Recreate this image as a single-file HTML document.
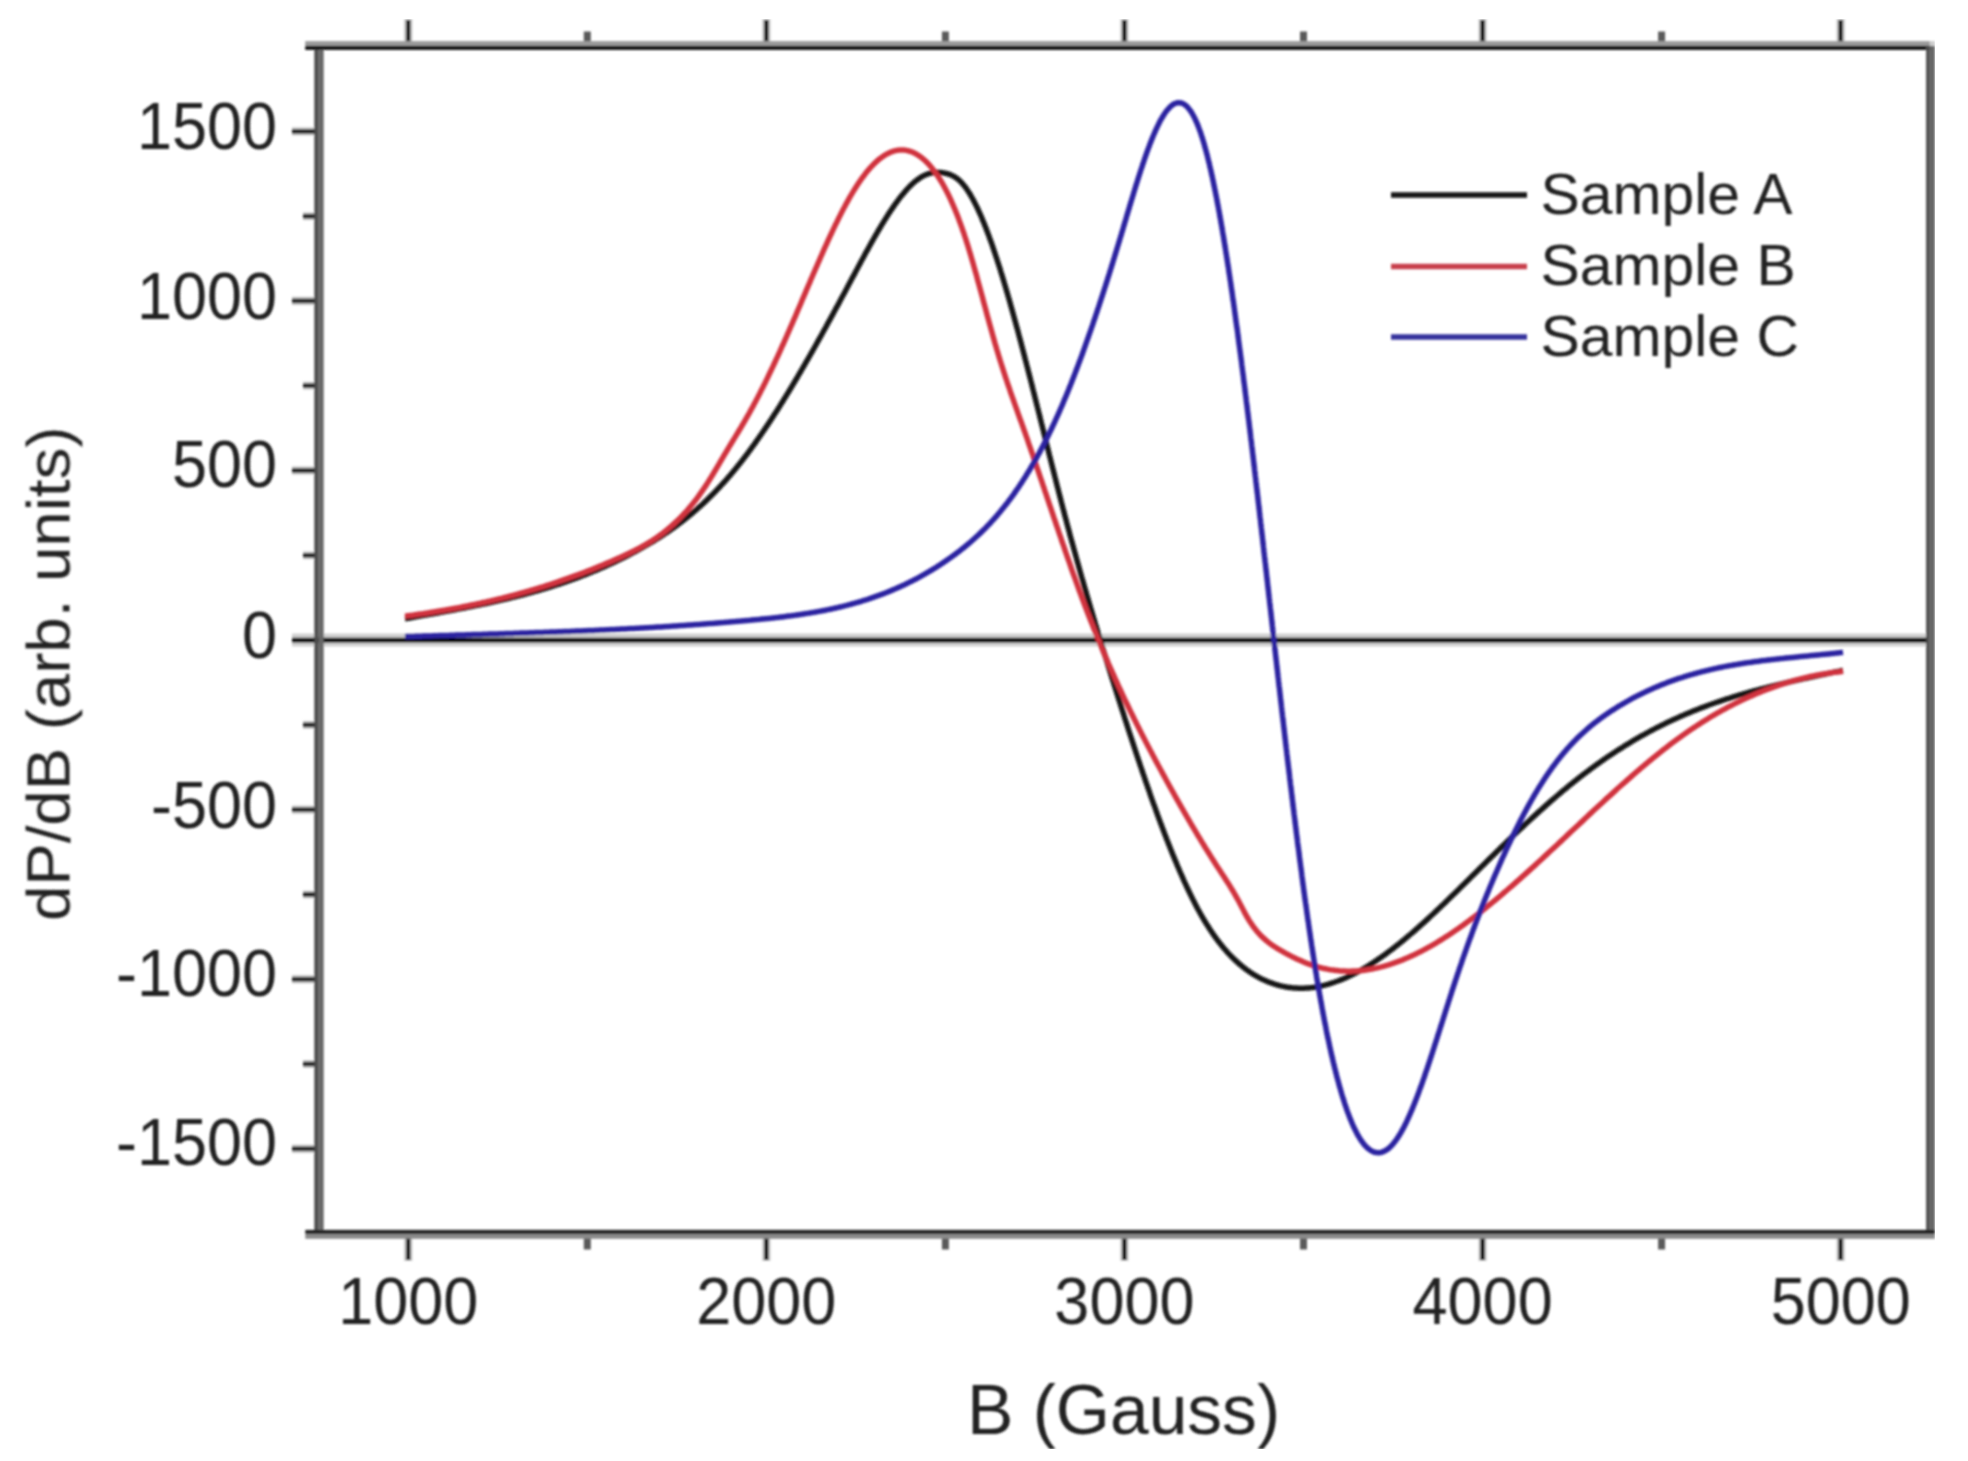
<!DOCTYPE html>
<html><head><meta charset="utf-8"><title>EPR spectra: dP/dB vs B</title>
<style>html,body{margin:0;padding:0;background:#fff;overflow:hidden;}svg{display:block;}</style></head>
<body><svg width="1968" height="1461" viewBox="0 0 1968 1461">
<defs><filter id="b" x="0" y="0" width="1" height="1"><feGaussianBlur stdDeviation="1.0"/></filter></defs><rect width="1968" height="1461" fill="#fff"/>
<g filter="url(#b)">
<line x1="408.2" y1="19.0" x2="408.2" y2="42.0" stroke="#cfcfcf" stroke-width="8.5"/>
<line x1="408.2" y1="20.0" x2="408.2" y2="42.0" stroke="#151515" stroke-width="4.5"/>
<line x1="408.2" y1="1237.0" x2="408.2" y2="1261.0" stroke="#cfcfcf" stroke-width="8.5"/>
<line x1="408.2" y1="1237.0" x2="408.2" y2="1260.0" stroke="#151515" stroke-width="4.5"/>
<line x1="587.3" y1="31.5" x2="587.3" y2="42.0" stroke="#5a5a5a" stroke-width="7"/>
<line x1="587.3" y1="1237.0" x2="587.3" y2="1249.5" stroke="#5a5a5a" stroke-width="7"/>
<line x1="766.3" y1="19.0" x2="766.3" y2="42.0" stroke="#cfcfcf" stroke-width="8.5"/>
<line x1="766.3" y1="20.0" x2="766.3" y2="42.0" stroke="#151515" stroke-width="4.5"/>
<line x1="766.3" y1="1237.0" x2="766.3" y2="1261.0" stroke="#cfcfcf" stroke-width="8.5"/>
<line x1="766.3" y1="1237.0" x2="766.3" y2="1260.0" stroke="#151515" stroke-width="4.5"/>
<line x1="945.4" y1="31.5" x2="945.4" y2="42.0" stroke="#5a5a5a" stroke-width="7"/>
<line x1="945.4" y1="1237.0" x2="945.4" y2="1249.5" stroke="#5a5a5a" stroke-width="7"/>
<line x1="1124.4" y1="19.0" x2="1124.4" y2="42.0" stroke="#cfcfcf" stroke-width="8.5"/>
<line x1="1124.4" y1="20.0" x2="1124.4" y2="42.0" stroke="#151515" stroke-width="4.5"/>
<line x1="1124.4" y1="1237.0" x2="1124.4" y2="1261.0" stroke="#cfcfcf" stroke-width="8.5"/>
<line x1="1124.4" y1="1237.0" x2="1124.4" y2="1260.0" stroke="#151515" stroke-width="4.5"/>
<line x1="1303.5" y1="31.5" x2="1303.5" y2="42.0" stroke="#5a5a5a" stroke-width="7"/>
<line x1="1303.5" y1="1237.0" x2="1303.5" y2="1249.5" stroke="#5a5a5a" stroke-width="7"/>
<line x1="1482.6" y1="19.0" x2="1482.6" y2="42.0" stroke="#cfcfcf" stroke-width="8.5"/>
<line x1="1482.6" y1="20.0" x2="1482.6" y2="42.0" stroke="#151515" stroke-width="4.5"/>
<line x1="1482.6" y1="1237.0" x2="1482.6" y2="1261.0" stroke="#cfcfcf" stroke-width="8.5"/>
<line x1="1482.6" y1="1237.0" x2="1482.6" y2="1260.0" stroke="#151515" stroke-width="4.5"/>
<line x1="1661.6" y1="31.5" x2="1661.6" y2="42.0" stroke="#5a5a5a" stroke-width="7"/>
<line x1="1661.6" y1="1237.0" x2="1661.6" y2="1249.5" stroke="#5a5a5a" stroke-width="7"/>
<line x1="1840.7" y1="19.0" x2="1840.7" y2="42.0" stroke="#cfcfcf" stroke-width="8.5"/>
<line x1="1840.7" y1="20.0" x2="1840.7" y2="42.0" stroke="#151515" stroke-width="4.5"/>
<line x1="1840.7" y1="1237.0" x2="1840.7" y2="1261.0" stroke="#cfcfcf" stroke-width="8.5"/>
<line x1="1840.7" y1="1237.0" x2="1840.7" y2="1260.0" stroke="#151515" stroke-width="4.5"/>
<line x1="292.0" y1="1148.8" x2="315.0" y2="1148.8" stroke="#cfcfcf" stroke-width="8.5"/>
<line x1="292.0" y1="1148.8" x2="315.0" y2="1148.8" stroke="#262626" stroke-width="4.6"/>
<line x1="303.0" y1="1064.0" x2="315.0" y2="1064.0" stroke="#cfcfcf" stroke-width="8"/>
<line x1="303.0" y1="1064.0" x2="315.0" y2="1064.0" stroke="#262626" stroke-width="4.6"/>
<line x1="292.0" y1="979.2" x2="315.0" y2="979.2" stroke="#cfcfcf" stroke-width="8.5"/>
<line x1="292.0" y1="979.2" x2="315.0" y2="979.2" stroke="#262626" stroke-width="4.6"/>
<line x1="303.0" y1="894.5" x2="315.0" y2="894.5" stroke="#cfcfcf" stroke-width="8"/>
<line x1="303.0" y1="894.5" x2="315.0" y2="894.5" stroke="#262626" stroke-width="4.6"/>
<line x1="292.0" y1="809.7" x2="315.0" y2="809.7" stroke="#cfcfcf" stroke-width="8.5"/>
<line x1="292.0" y1="809.7" x2="315.0" y2="809.7" stroke="#262626" stroke-width="4.6"/>
<line x1="303.0" y1="724.9" x2="315.0" y2="724.9" stroke="#cfcfcf" stroke-width="8"/>
<line x1="303.0" y1="724.9" x2="315.0" y2="724.9" stroke="#262626" stroke-width="4.6"/>
<line x1="292.0" y1="640.1" x2="315.0" y2="640.1" stroke="#cfcfcf" stroke-width="8.5"/>
<line x1="292.0" y1="640.1" x2="315.0" y2="640.1" stroke="#262626" stroke-width="4.6"/>
<line x1="303.0" y1="555.3" x2="315.0" y2="555.3" stroke="#cfcfcf" stroke-width="8"/>
<line x1="303.0" y1="555.3" x2="315.0" y2="555.3" stroke="#262626" stroke-width="4.6"/>
<line x1="292.0" y1="470.5" x2="315.0" y2="470.5" stroke="#cfcfcf" stroke-width="8.5"/>
<line x1="292.0" y1="470.5" x2="315.0" y2="470.5" stroke="#262626" stroke-width="4.6"/>
<line x1="303.0" y1="385.7" x2="315.0" y2="385.7" stroke="#cfcfcf" stroke-width="8"/>
<line x1="303.0" y1="385.7" x2="315.0" y2="385.7" stroke="#262626" stroke-width="4.6"/>
<line x1="292.0" y1="300.9" x2="315.0" y2="300.9" stroke="#cfcfcf" stroke-width="8.5"/>
<line x1="292.0" y1="300.9" x2="315.0" y2="300.9" stroke="#262626" stroke-width="4.6"/>
<line x1="303.0" y1="216.2" x2="315.0" y2="216.2" stroke="#cfcfcf" stroke-width="8"/>
<line x1="303.0" y1="216.2" x2="315.0" y2="216.2" stroke="#262626" stroke-width="4.6"/>
<line x1="292.0" y1="131.4" x2="315.0" y2="131.4" stroke="#cfcfcf" stroke-width="8.5"/>
<line x1="292.0" y1="131.4" x2="315.0" y2="131.4" stroke="#262626" stroke-width="4.6"/>
<line x1="292.0" y1="640.1" x2="1927.0" y2="640.1" stroke="#d0d0d0" stroke-width="13"/>
<line x1="292.0" y1="640.1" x2="1927.0" y2="640.1" stroke="#000" stroke-width="4.6"/>
<rect x="305.2" y="41.1" width="1624.7" height="4.7" fill="#9a9a9a"/>
<rect x="305.2" y="45.8" width="1624.7" height="4.1" fill="#111"/>
<rect x="314.3" y="49.8" width="4.4" height="1180.2" fill="#4d4d4d"/>
<rect x="318.7" y="49.8" width="5.0" height="1180.2" fill="#686868"/>
<rect x="1926.1" y="45.8" width="3.7" height="1184.2" fill="#4d4d4d"/>
<rect x="1929.8" y="45.8" width="5.1" height="1184.2" fill="#666"/>
<rect x="1929.8" y="41.1" width="5.1" height="4.7" fill="#cccccc"/>
<rect x="305.3" y="1229.9" width="1629.6" height="4.1" fill="#222"/>
<rect x="305.3" y="1234.0" width="1629.6" height="4.8" fill="#8a8a8a"/>
<text transform="translate(277,149) scale(0.94,1)" text-anchor="end" font-size="67" font-family="Liberation Sans, Arial, sans-serif" fill="#222">1500</text>
<text transform="translate(277,318.5) scale(0.94,1)" text-anchor="end" font-size="67" font-family="Liberation Sans, Arial, sans-serif" fill="#222">1000</text>
<text transform="translate(277,487) scale(0.94,1)" text-anchor="end" font-size="67" font-family="Liberation Sans, Arial, sans-serif" fill="#222">500</text>
<text transform="translate(277,658) scale(0.94,1)" text-anchor="end" font-size="67" font-family="Liberation Sans, Arial, sans-serif" fill="#222">0</text>
<text transform="translate(277,827.5) scale(0.94,1)" text-anchor="end" font-size="67" font-family="Liberation Sans, Arial, sans-serif" fill="#222">-500</text>
<text transform="translate(277,996) scale(0.94,1)" text-anchor="end" font-size="67" font-family="Liberation Sans, Arial, sans-serif" fill="#222">-1000</text>
<text transform="translate(277,1165) scale(0.94,1)" text-anchor="end" font-size="67" font-family="Liberation Sans, Arial, sans-serif" fill="#222">-1500</text>
<text transform="translate(408.2,1324) scale(0.94,1)" text-anchor="middle" font-size="67" font-family="Liberation Sans, Arial, sans-serif" fill="#222">1000</text>
<text transform="translate(766.3,1324) scale(0.94,1)" text-anchor="middle" font-size="67" font-family="Liberation Sans, Arial, sans-serif" fill="#222">2000</text>
<text transform="translate(1124.4,1324) scale(0.94,1)" text-anchor="middle" font-size="67" font-family="Liberation Sans, Arial, sans-serif" fill="#222">3000</text>
<text transform="translate(1482.6,1324) scale(0.94,1)" text-anchor="middle" font-size="67" font-family="Liberation Sans, Arial, sans-serif" fill="#222">4000</text>
<text transform="translate(1840.7,1324) scale(0.94,1)" text-anchor="middle" font-size="67" font-family="Liberation Sans, Arial, sans-serif" fill="#222">5000</text>
<text transform="translate(1123.5,1433.5) scale(0.98,1)" text-anchor="middle" font-size="71" font-family="Liberation Sans, Arial, sans-serif" fill="#222">B (Gauss)</text>
<text transform="translate(69.5,673.75) rotate(-90) scale(1.042,1)" text-anchor="middle" font-size="61" font-family="Liberation Sans, Arial, sans-serif" fill="#222">dP/dB (arb. units)</text>
<line x1="1391.0" y1="195.0" x2="1527.0" y2="195.0" stroke="#151515" stroke-width="5.5"/>
<text transform="translate(1540.5,213.5) scale(1.015,1)" font-size="58" font-family="Liberation Sans, Arial, sans-serif" fill="#222">Sample A</text>
<line x1="1391.0" y1="266.5" x2="1527.0" y2="266.5" stroke="#c8404c" stroke-width="5.5"/>
<text transform="translate(1540.5,285.0) scale(1.015,1)" font-size="58" font-family="Liberation Sans, Arial, sans-serif" fill="#222">Sample B</text>
<line x1="1391.0" y1="337.0" x2="1527.0" y2="337.0" stroke="#34309c" stroke-width="5.5"/>
<text transform="translate(1540.5,355.5) scale(1.015,1)" font-size="58" font-family="Liberation Sans, Arial, sans-serif" fill="#222">Sample C</text>
<path d="M405.0 618.7 L406.5 618.5 L408.0 618.2 L409.4 618.0 L410.9 617.7 L412.4 617.4 L413.9 617.2 L415.3 616.9 L416.8 616.6 L418.3 616.4 L419.8 616.1 L421.2 615.8 L422.7 615.6 L424.2 615.3 L425.7 615.1 L427.2 614.8 L428.6 614.5 L430.1 614.3 L431.6 614.0 L433.1 613.7 L434.5 613.5 L436.0 613.2 L437.5 612.9 L439.0 612.7 L440.4 612.4 L441.9 612.1 L443.4 611.9 L444.9 611.6 L446.3 611.3 L447.8 611.0 L449.3 610.8 L450.8 610.5 L452.2 610.2 L453.7 609.9 L455.2 609.7 L456.7 609.4 L458.1 609.1 L459.6 608.8 L461.1 608.5 L462.6 608.3 L464.0 608.0 L465.5 607.7 L467.0 607.4 L468.4 607.1 L469.9 606.8 L471.4 606.5 L472.9 606.2 L474.3 605.9 L475.8 605.6 L477.3 605.3 L478.7 605.0 L480.2 604.7 L481.7 604.4 L483.1 604.1 L484.6 603.8 L486.1 603.5 L487.5 603.2 L489.0 602.9 L490.5 602.5 L491.9 602.2 L493.4 601.9 L494.9 601.6 L496.3 601.2 L497.8 600.9 L499.3 600.6 L500.7 600.2 L502.2 599.9 L503.6 599.6 L505.1 599.2 L506.6 598.9 L508.0 598.5 L509.5 598.2 L510.9 597.8 L512.4 597.4 L513.9 597.1 L515.3 596.7 L516.8 596.4 L518.2 596.0 L519.7 595.6 L521.1 595.2 L522.6 594.9 L524.0 594.5 L525.5 594.1 L526.9 593.7 L528.4 593.3 L529.8 592.9 L531.3 592.5 L532.7 592.1 L534.2 591.7 L535.6 591.3 L537.0 590.9 L538.5 590.5 L539.9 590.1 L541.4 589.6 L542.8 589.2 L544.2 588.8 L545.7 588.3 L547.1 587.9 L548.6 587.5 L550.0 587.0 L551.4 586.6 L552.8 586.1 L554.3 585.7 L555.7 585.2 L557.1 584.7 L558.6 584.3 L560.0 583.8 L561.4 583.3 L562.8 582.9 L564.3 582.4 L565.7 581.9 L567.1 581.4 L568.5 580.9 L569.9 580.4 L571.3 579.9 L572.7 579.4 L574.2 578.9 L575.6 578.4 L577.0 577.8 L578.4 577.3 L579.8 576.8 L581.2 576.2 L582.6 575.7 L584.0 575.2 L585.4 574.6 L586.8 574.1 L588.2 573.5 L589.6 573.0 L591.0 572.4 L592.4 571.8 L593.7 571.3 L595.1 570.7 L596.5 570.1 L597.9 569.5 L599.3 568.9 L600.7 568.3 L602.0 567.7 L603.4 567.1 L604.8 566.5 L606.1 565.9 L607.5 565.3 L608.9 564.7 L610.2 564.0 L611.6 563.4 L613.0 562.8 L614.3 562.1 L615.7 561.5 L617.0 560.8 L618.4 560.2 L619.7 559.5 L621.1 558.9 L622.4 558.2 L623.8 557.5 L625.1 556.9 L626.5 556.2 L627.8 555.5 L629.1 554.8 L630.5 554.1 L631.8 553.4 L633.1 552.7 L634.4 552.0 L635.8 551.3 L637.1 550.6 L638.4 549.9 L639.7 549.1 L641.0 548.4 L642.3 547.7 L643.6 546.9 L644.9 546.2 L646.2 545.4 L647.5 544.7 L648.8 543.9 L650.1 543.2 L651.4 542.4 L652.7 541.6 L654.0 540.8 L655.3 540.0 L656.5 539.2 L657.8 538.4 L659.1 537.6 L660.3 536.8 L661.6 536.0 L662.8 535.2 L664.1 534.3 L665.3 533.5 L666.6 532.7 L667.8 531.8 L669.1 531.0 L670.3 530.1 L671.5 529.2 L672.8 528.4 L674.0 527.5 L675.2 526.6 L676.4 525.7 L677.6 524.8 L678.8 523.9 L680.0 523.0 L681.2 522.1 L682.4 521.2 L683.6 520.2 L684.8 519.3 L685.9 518.4 L687.1 517.4 L688.3 516.5 L689.4 515.5 L690.6 514.6 L691.7 513.6 L692.9 512.6 L694.0 511.7 L695.2 510.7 L696.3 509.7 L697.4 508.7 L698.5 507.7 L699.7 506.7 L700.8 505.7 L701.9 504.7 L703.0 503.7 L704.1 502.6 L705.2 501.6 L706.3 500.6 L707.4 499.5 L708.4 498.5 L709.5 497.4 L710.6 496.4 L711.7 495.3 L712.7 494.2 L713.8 493.2 L714.8 492.1 L715.9 491.0 L716.9 489.9 L717.9 488.8 L719.0 487.8 L720.0 486.7 L721.0 485.5 L722.0 484.4 L723.1 483.3 L724.1 482.2 L725.1 481.1 L726.1 480.0 L727.1 478.8 L728.0 477.7 L729.0 476.6 L730.0 475.4 L731.0 474.3 L732.0 473.1 L732.9 472.0 L733.9 470.8 L734.8 469.7 L735.8 468.5 L736.7 467.3 L737.7 466.2 L738.6 465.0 L739.6 463.8 L740.5 462.6 L741.4 461.5 L742.3 460.3 L743.3 459.1 L744.2 457.9 L745.1 456.7 L746.0 455.5 L746.9 454.3 L747.8 453.1 L748.7 451.9 L749.6 450.7 L750.5 449.5 L751.4 448.2 L752.2 447.0 L753.1 445.8 L754.0 444.6 L754.9 443.4 L755.7 442.2 L756.6 440.9 L757.5 439.7 L758.3 438.5 L759.2 437.2 L760.1 436.0 L760.9 434.8 L761.8 433.5 L762.6 432.3 L763.5 431.0 L764.3 429.8 L765.1 428.6 L766.0 427.3 L766.8 426.1 L767.7 424.8 L768.5 423.6 L769.3 422.3 L770.1 421.1 L771.0 419.8 L771.8 418.5 L772.6 417.3 L773.4 416.0 L774.2 414.8 L775.0 413.5 L775.9 412.2 L776.7 411.0 L777.5 409.7 L778.3 408.4 L779.1 407.2 L779.9 405.9 L780.7 404.6 L781.5 403.3 L782.3 402.1 L783.1 400.8 L783.9 399.5 L784.6 398.2 L785.4 397.0 L786.2 395.7 L787.0 394.4 L787.8 393.1 L788.6 391.8 L789.4 390.6 L790.1 389.3 L790.9 388.0 L791.7 386.7 L792.5 385.4 L793.2 384.1 L794.0 382.8 L794.8 381.5 L795.5 380.3 L796.3 379.0 L797.1 377.7 L797.8 376.4 L798.6 375.1 L799.3 373.8 L800.1 372.5 L800.9 371.2 L801.6 369.9 L802.4 368.6 L803.1 367.3 L803.9 366.0 L804.6 364.7 L805.4 363.4 L806.1 362.1 L806.9 360.8 L807.6 359.5 L808.4 358.2 L809.1 356.9 L809.9 355.6 L810.6 354.3 L811.3 353.0 L812.1 351.7 L812.8 350.4 L813.6 349.1 L814.3 347.8 L815.0 346.5 L815.8 345.1 L816.5 343.8 L817.2 342.5 L818.0 341.2 L818.7 339.9 L819.4 338.6 L820.2 337.3 L820.9 336.0 L821.6 334.7 L822.4 333.3 L823.1 332.0 L823.8 330.7 L824.5 329.4 L825.3 328.1 L826.0 326.8 L826.7 325.5 L827.4 324.1 L828.1 322.8 L828.9 321.5 L829.6 320.2 L830.3 318.9 L831.0 317.6 L831.7 316.2 L832.5 314.9 L833.2 313.6 L833.9 312.3 L834.6 311.0 L835.3 309.7 L836.0 308.3 L836.8 307.0 L837.5 305.7 L838.2 304.4 L838.9 303.1 L839.6 301.7 L840.3 300.4 L841.0 299.1 L841.7 297.8 L842.4 296.4 L843.2 295.1 L843.9 293.8 L844.6 292.5 L845.3 291.2 L846.0 289.8 L846.7 288.5 L847.4 287.2 L848.1 285.9 L848.8 284.5 L849.5 283.2 L850.2 281.9 L850.9 280.6 L851.6 279.2 L852.3 277.9 L853.0 276.6 L853.8 275.3 L854.5 273.9 L855.2 272.6 L855.9 271.3 L856.6 270.0 L857.3 268.7 L858.0 267.3 L858.7 266.0 L859.4 264.7 L860.1 263.4 L860.8 262.0 L861.5 260.7 L862.2 259.4 L863.0 258.1 L863.7 256.8 L864.4 255.5 L865.1 254.1 L865.8 252.8 L866.5 251.5 L867.3 250.2 L868.0 248.9 L868.7 247.6 L869.4 246.3 L870.2 244.9 L870.9 243.6 L871.6 242.3 L872.4 241.0 L873.1 239.7 L873.8 238.4 L874.6 237.1 L875.3 235.8 L876.1 234.5 L876.8 233.2 L877.6 231.9 L878.3 230.6 L879.1 229.4 L879.8 228.1 L880.6 226.8 L881.4 225.5 L882.1 224.2 L882.9 222.9 L883.7 221.7 L884.5 220.4 L885.3 219.1 L886.1 217.9 L886.9 216.6 L887.7 215.3 L888.5 214.1 L889.3 212.8 L890.1 211.6 L891.0 210.3 L891.8 209.1 L892.6 207.9 L893.5 206.6 L894.3 205.4 L895.2 204.2 L896.1 203.0 L896.9 201.8 L897.8 200.6 L898.7 199.4 L899.6 198.2 L900.5 197.0 L901.5 195.8 L902.4 194.7 L903.4 193.5 L904.3 192.4 L905.3 191.2 L906.3 190.1 L907.3 189.0 L908.3 187.9 L909.3 186.9 L910.4 185.8 L911.4 184.8 L912.5 183.8 L913.6 182.8 L914.7 181.8 L915.9 180.9 L917.1 179.9 L918.3 179.1 L919.5 178.2 L920.7 177.4 L922.0 176.6 L923.3 175.9 L924.6 175.3 L926.0 174.7 L927.4 174.1 L928.8 173.7 L930.2 173.3 L931.7 172.9 L933.1 172.7 L934.6 172.5 L936.1 172.4 L937.6 172.3 L939.1 172.4 L940.6 172.5 L942.1 172.6 L943.6 172.9 L945.1 173.2 L946.5 173.5 L948.0 173.9 L949.4 174.4 L950.8 174.9 L952.2 175.6 L953.6 176.3 L954.9 177.0 L956.2 177.9 L957.4 178.8 L958.6 179.7 L959.7 180.8 L960.8 181.8 L961.8 183.0 L962.9 184.1 L963.8 185.3 L964.8 186.5 L965.7 187.7 L966.6 188.9 L967.4 190.2 L968.3 191.5 L969.1 192.7 L969.9 194.0 L970.7 195.3 L971.4 196.6 L972.2 198.0 L972.9 199.3 L973.6 200.6 L974.3 202.0 L975.0 203.3 L975.7 204.7 L976.4 206.0 L977.0 207.4 L977.7 208.7 L978.3 210.1 L978.9 211.5 L979.6 212.9 L980.2 214.2 L980.8 215.6 L981.4 217.0 L982.0 218.4 L982.5 219.8 L983.1 221.2 L983.7 222.6 L984.3 224.0 L984.8 225.4 L985.4 226.8 L985.9 228.2 L986.5 229.6 L987.0 231.0 L987.5 232.4 L988.1 233.8 L988.6 235.2 L989.1 236.6 L989.6 238.0 L990.1 239.5 L990.7 240.9 L991.2 242.3 L991.7 243.7 L992.2 245.1 L992.7 246.6 L993.1 248.0 L993.6 249.4 L994.1 250.8 L994.6 252.3 L995.1 253.7 L995.5 255.1 L996.0 256.5 L996.5 258.0 L997.0 259.4 L997.4 260.8 L997.9 262.3 L998.3 263.7 L998.8 265.1 L999.3 266.6 L999.7 268.0 L1000.2 269.4 L1000.6 270.9 L1001.0 272.3 L1001.5 273.7 L1001.9 275.2 L1002.4 276.6 L1002.8 278.0 L1003.2 279.5 L1003.7 280.9 L1004.1 282.4 L1004.5 283.8 L1005.0 285.2 L1005.4 286.7 L1005.8 288.1 L1006.2 289.6 L1006.7 291.0 L1007.1 292.4 L1007.5 293.9 L1007.9 295.3 L1008.3 296.8 L1008.8 298.2 L1009.2 299.7 L1009.6 301.1 L1010.0 302.6 L1010.4 304.0 L1010.8 305.4 L1011.2 306.9 L1011.6 308.3 L1012.0 309.8 L1012.4 311.2 L1012.8 312.7 L1013.2 314.1 L1013.6 315.6 L1014.0 317.0 L1014.4 318.5 L1014.8 319.9 L1015.2 321.4 L1015.6 322.8 L1016.0 324.3 L1016.4 325.7 L1016.8 327.2 L1017.2 328.6 L1017.6 330.1 L1018.0 331.5 L1018.4 333.0 L1018.7 334.4 L1019.1 335.9 L1019.5 337.3 L1019.9 338.8 L1020.3 340.2 L1020.7 341.7 L1021.1 343.1 L1021.4 344.6 L1021.8 346.0 L1022.2 347.5 L1022.6 348.9 L1023.0 350.4 L1023.3 351.8 L1023.7 353.3 L1024.1 354.7 L1024.5 356.2 L1024.9 357.7 L1025.2 359.1 L1025.6 360.6 L1026.0 362.0 L1026.4 363.5 L1026.7 364.9 L1027.1 366.4 L1027.5 367.8 L1027.9 369.3 L1028.2 370.7 L1028.6 372.2 L1029.0 373.6 L1029.3 375.1 L1029.7 376.5 L1030.1 378.0 L1030.5 379.5 L1030.8 380.9 L1031.2 382.4 L1031.6 383.8 L1031.9 385.3 L1032.3 386.7 L1032.7 388.2 L1033.0 389.6 L1033.4 391.1 L1033.8 392.6 L1034.1 394.0 L1034.5 395.5 L1034.9 396.9 L1035.2 398.4 L1035.6 399.8 L1036.0 401.3 L1036.3 402.7 L1036.7 404.2 L1037.1 405.6 L1037.4 407.1 L1037.8 408.6 L1038.2 410.0 L1038.5 411.5 L1038.9 412.9 L1039.3 414.4 L1039.6 415.8 L1040.0 417.3 L1040.3 418.7 L1040.7 420.2 L1041.1 421.7 L1041.4 423.1 L1041.8 424.6 L1042.2 426.0 L1042.5 427.5 L1042.9 428.9 L1043.3 430.4 L1043.6 431.8 L1044.0 433.3 L1044.3 434.8 L1044.7 436.2 L1045.1 437.7 L1045.4 439.1 L1045.8 440.6 L1046.2 442.0 L1046.5 443.5 L1046.9 444.9 L1047.2 446.4 L1047.6 447.8 L1048.0 449.3 L1048.3 450.8 L1048.7 452.2 L1049.1 453.7 L1049.4 455.1 L1049.8 456.6 L1050.2 458.0 L1050.5 459.5 L1050.9 460.9 L1051.3 462.4 L1051.6 463.9 L1052.0 465.3 L1052.4 466.8 L1052.7 468.2 L1053.1 469.7 L1053.5 471.1 L1053.8 472.6 L1054.2 474.0 L1054.6 475.5 L1054.9 476.9 L1055.3 478.4 L1055.7 479.8 L1056.0 481.3 L1056.4 482.7 L1056.8 484.2 L1057.1 485.7 L1057.5 487.1 L1057.9 488.6 L1058.3 490.0 L1058.6 491.5 L1059.0 492.9 L1059.4 494.4 L1059.7 495.8 L1060.1 497.3 L1060.5 498.7 L1060.9 500.2 L1061.2 501.6 L1061.6 503.1 L1062.0 504.5 L1062.4 506.0 L1062.7 507.4 L1063.1 508.9 L1063.5 510.3 L1063.9 511.8 L1064.3 513.2 L1064.6 514.7 L1065.0 516.1 L1065.4 517.6 L1065.8 519.0 L1066.2 520.5 L1066.6 521.9 L1066.9 523.4 L1067.3 524.8 L1067.7 526.3 L1068.1 527.7 L1068.5 529.2 L1068.9 530.6 L1069.3 532.1 L1069.6 533.5 L1070.0 535.0 L1070.4 536.4 L1070.8 537.9 L1071.2 539.3 L1071.6 540.7 L1072.0 542.2 L1072.4 543.6 L1072.8 545.1 L1073.2 546.5 L1073.6 548.0 L1074.0 549.4 L1074.4 550.9 L1074.8 552.3 L1075.2 553.8 L1075.6 555.2 L1076.0 556.6 L1076.4 558.1 L1076.8 559.5 L1077.2 561.0 L1077.6 562.4 L1078.0 563.9 L1078.4 565.3 L1078.8 566.7 L1079.2 568.2 L1079.6 569.6 L1080.0 571.1 L1080.4 572.5 L1080.8 574.0 L1081.2 575.4 L1081.6 576.8 L1082.0 578.3 L1082.5 579.7 L1082.9 581.2 L1083.3 582.6 L1083.7 584.0 L1084.1 585.5 L1084.5 586.9 L1084.9 588.4 L1085.4 589.8 L1085.8 591.2 L1086.2 592.7 L1086.6 594.1 L1087.0 595.6 L1087.4 597.0 L1087.9 598.4 L1088.3 599.9 L1088.7 601.3 L1089.1 602.8 L1089.5 604.2 L1090.0 605.6 L1090.4 607.1 L1090.8 608.5 L1091.2 610.0 L1091.7 611.4 L1092.1 612.8 L1092.5 614.3 L1092.9 615.7 L1093.4 617.1 L1093.8 618.6 L1094.2 620.0 L1094.7 621.4 L1095.1 622.9 L1095.5 624.3 L1096.0 625.8 L1096.4 627.2 L1096.8 628.6 L1097.2 630.1 L1097.7 631.5 L1098.1 632.9 L1098.5 634.4 L1099.0 635.8 L1099.4 637.2 L1099.9 638.7 L1100.3 640.1 L1100.7 641.5 L1101.2 643.0 L1101.6 644.4 L1102.0 645.8 L1102.5 647.3 L1102.9 648.7 L1103.4 650.1 L1103.8 651.6 L1104.2 653.0 L1104.7 654.4 L1105.1 655.9 L1105.6 657.3 L1106.0 658.7 L1106.5 660.2 L1106.9 661.6 L1107.3 663.0 L1107.8 664.5 L1108.2 665.9 L1108.7 667.3 L1109.1 668.8 L1109.6 670.2 L1110.0 671.6 L1110.5 673.0 L1110.9 674.5 L1111.4 675.9 L1111.8 677.3 L1112.3 678.8 L1112.7 680.2 L1113.2 681.6 L1113.6 683.1 L1114.1 684.5 L1114.5 685.9 L1115.0 687.3 L1115.4 688.8 L1115.9 690.2 L1116.3 691.6 L1116.8 693.1 L1117.2 694.5 L1117.7 695.9 L1118.1 697.4 L1118.6 698.8 L1119.0 700.2 L1119.5 701.6 L1120.0 703.1 L1120.4 704.5 L1120.9 705.9 L1121.3 707.4 L1121.8 708.8 L1122.2 710.2 L1122.7 711.6 L1123.2 713.1 L1123.6 714.5 L1124.1 715.9 L1124.5 717.3 L1125.0 718.8 L1125.4 720.2 L1125.9 721.6 L1126.4 723.1 L1126.8 724.5 L1127.3 725.9 L1127.7 727.3 L1128.2 728.8 L1128.7 730.2 L1129.1 731.6 L1129.6 733.0 L1130.1 734.5 L1130.5 735.9 L1131.0 737.3 L1131.5 738.7 L1131.9 740.2 L1132.4 741.6 L1132.9 743.0 L1133.3 744.4 L1133.8 745.9 L1134.3 747.3 L1134.7 748.7 L1135.2 750.1 L1135.7 751.6 L1136.1 753.0 L1136.6 754.4 L1137.1 755.8 L1137.6 757.3 L1138.0 758.7 L1138.5 760.1 L1139.0 761.5 L1139.5 762.9 L1139.9 764.4 L1140.4 765.8 L1140.9 767.2 L1141.4 768.6 L1141.9 770.0 L1142.3 771.5 L1142.8 772.9 L1143.3 774.3 L1143.8 775.7 L1144.3 777.1 L1144.8 778.6 L1145.2 780.0 L1145.7 781.4 L1146.2 782.8 L1146.7 784.2 L1147.2 785.6 L1147.7 787.1 L1148.2 788.5 L1148.7 789.9 L1149.2 791.3 L1149.7 792.7 L1150.1 794.1 L1150.6 795.5 L1151.1 797.0 L1151.6 798.4 L1152.1 799.8 L1152.6 801.2 L1153.1 802.6 L1153.6 804.0 L1154.2 805.4 L1154.7 806.8 L1155.2 808.2 L1155.7 809.7 L1156.2 811.1 L1156.7 812.5 L1157.2 813.9 L1157.7 815.3 L1158.2 816.7 L1158.7 818.1 L1159.3 819.5 L1159.8 820.9 L1160.3 822.3 L1160.8 823.7 L1161.4 825.1 L1161.9 826.5 L1162.4 827.9 L1162.9 829.3 L1163.5 830.7 L1164.0 832.1 L1164.5 833.5 L1165.1 834.9 L1165.6 836.3 L1166.1 837.7 L1166.7 839.1 L1167.2 840.5 L1167.8 841.9 L1168.3 843.3 L1168.9 844.7 L1169.4 846.1 L1170.0 847.5 L1170.5 848.9 L1171.1 850.3 L1171.6 851.7 L1172.2 853.0 L1172.7 854.4 L1173.3 855.8 L1173.9 857.2 L1174.5 858.6 L1175.0 860.0 L1175.6 861.3 L1176.2 862.7 L1176.8 864.1 L1177.3 865.5 L1177.9 866.9 L1178.5 868.2 L1179.1 869.6 L1179.7 871.0 L1180.3 872.4 L1180.9 873.7 L1181.5 875.1 L1182.1 876.5 L1182.7 877.8 L1183.3 879.2 L1183.9 880.6 L1184.5 881.9 L1185.2 883.3 L1185.8 884.7 L1186.4 886.0 L1187.0 887.4 L1187.7 888.7 L1188.3 890.1 L1189.0 891.4 L1189.6 892.8 L1190.3 894.1 L1190.9 895.5 L1191.6 896.8 L1192.2 898.1 L1192.9 899.5 L1193.6 900.8 L1194.3 902.1 L1194.9 903.5 L1195.6 904.8 L1196.3 906.1 L1197.0 907.4 L1197.7 908.8 L1198.4 910.1 L1199.2 911.4 L1199.9 912.7 L1200.6 914.0 L1201.3 915.3 L1202.1 916.6 L1202.8 917.9 L1203.6 919.2 L1204.4 920.5 L1205.1 921.7 L1205.9 923.0 L1206.7 924.3 L1207.5 925.5 L1208.3 926.8 L1209.1 928.1 L1209.9 929.3 L1210.7 930.6 L1211.6 931.8 L1212.4 933.0 L1213.2 934.3 L1214.1 935.5 L1215.0 936.7 L1215.8 937.9 L1216.7 939.1 L1217.6 940.3 L1218.5 941.5 L1219.4 942.7 L1220.3 943.9 L1221.3 945.0 L1222.2 946.2 L1223.1 947.3 L1224.1 948.5 L1225.1 949.6 L1226.1 950.7 L1227.0 951.9 L1228.0 953.0 L1229.1 954.1 L1230.1 955.1 L1231.1 956.2 L1232.2 957.3 L1233.2 958.3 L1234.3 959.4 L1235.4 960.4 L1236.5 961.4 L1237.6 962.4 L1238.7 963.4 L1239.8 964.4 L1241.0 965.3 L1242.1 966.3 L1243.3 967.2 L1244.5 968.1 L1245.6 969.0 L1246.8 969.9 L1248.1 970.8 L1249.3 971.6 L1250.5 972.5 L1251.8 973.3 L1253.0 974.1 L1254.3 974.9 L1255.6 975.6 L1256.9 976.4 L1258.2 977.1 L1259.5 977.8 L1260.8 978.5 L1262.2 979.2 L1263.5 979.8 L1264.9 980.4 L1266.3 981.0 L1267.6 981.6 L1269.0 982.2 L1270.4 982.7 L1271.8 983.2 L1273.2 983.7 L1274.7 984.2 L1276.1 984.6 L1277.5 985.0 L1279.0 985.4 L1280.4 985.8 L1281.9 986.1 L1283.3 986.4 L1284.8 986.7 L1286.3 987.0 L1287.8 987.2 L1289.2 987.5 L1290.7 987.6 L1292.2 987.8 L1293.7 987.9 L1295.2 988.0 L1296.7 988.1 L1298.2 988.2 L1299.7 988.2 L1301.2 988.2 L1302.7 988.2 L1304.2 988.2 L1305.7 988.1 L1307.2 988.0 L1308.7 987.9 L1310.2 987.7 L1311.7 987.6 L1313.2 987.4 L1314.7 987.2 L1316.1 986.9 L1317.6 986.7 L1319.1 986.4 L1320.6 986.1 L1322.0 985.8 L1323.5 985.4 L1325.0 985.1 L1326.4 984.7 L1327.9 984.3 L1329.3 983.9 L1330.7 983.4 L1332.2 983.0 L1333.6 982.5 L1335.0 982.0 L1336.4 981.5 L1337.8 981.0 L1339.3 980.5 L1340.6 979.9 L1342.0 979.3 L1343.4 978.8 L1344.8 978.2 L1346.2 977.6 L1347.6 976.9 L1348.9 976.3 L1350.3 975.7 L1351.6 975.0 L1353.0 974.3 L1354.3 973.7 L1355.6 973.0 L1357.0 972.3 L1358.3 971.5 L1359.6 970.8 L1360.9 970.1 L1362.2 969.3 L1363.5 968.6 L1364.8 967.8 L1366.1 967.1 L1367.4 966.3 L1368.7 965.5 L1370.0 964.7 L1371.2 963.9 L1372.5 963.1 L1373.7 962.3 L1375.0 961.4 L1376.3 960.6 L1377.5 959.7 L1378.7 958.9 L1380.0 958.0 L1381.2 957.2 L1382.4 956.3 L1383.7 955.4 L1384.9 954.6 L1386.1 953.7 L1387.3 952.8 L1388.5 951.9 L1389.7 951.0 L1390.9 950.1 L1392.1 949.2 L1393.3 948.3 L1394.5 947.3 L1395.7 946.4 L1396.8 945.5 L1398.0 944.6 L1399.2 943.6 L1400.4 942.7 L1401.5 941.7 L1402.7 940.8 L1403.9 939.8 L1405.0 938.9 L1406.2 937.9 L1407.3 936.9 L1408.5 936.0 L1409.6 935.0 L1410.8 934.0 L1411.9 933.1 L1413.0 932.1 L1414.2 931.1 L1415.3 930.1 L1416.4 929.1 L1417.6 928.1 L1418.7 927.1 L1419.8 926.1 L1420.9 925.1 L1422.0 924.1 L1423.2 923.1 L1424.3 922.1 L1425.4 921.1 L1426.5 920.1 L1427.6 919.1 L1428.7 918.1 L1429.8 917.0 L1430.9 916.0 L1432.0 915.0 L1433.1 914.0 L1434.2 913.0 L1435.3 911.9 L1436.4 910.9 L1437.5 909.9 L1438.6 908.8 L1439.7 907.8 L1440.7 906.8 L1441.8 905.7 L1442.9 904.7 L1444.0 903.7 L1445.1 902.6 L1446.2 901.6 L1447.2 900.5 L1448.3 899.5 L1449.4 898.4 L1450.5 897.4 L1451.6 896.3 L1452.6 895.3 L1453.7 894.3 L1454.8 893.2 L1455.8 892.2 L1456.9 891.1 L1458.0 890.1 L1459.1 889.0 L1460.1 887.9 L1461.2 886.9 L1462.3 885.8 L1463.3 884.8 L1464.4 883.7 L1465.5 882.7 L1466.5 881.6 L1467.6 880.6 L1468.7 879.5 L1469.7 878.5 L1470.8 877.4 L1471.9 876.3 L1472.9 875.3 L1474.0 874.2 L1475.0 873.2 L1476.1 872.1 L1477.2 871.1 L1478.2 870.0 L1479.3 868.9 L1480.4 867.9 L1481.4 866.8 L1482.5 865.8 L1483.6 864.7 L1484.6 863.7 L1485.7 862.6 L1486.8 861.5 L1487.8 860.5 L1488.9 859.4 L1490.0 858.4 L1491.0 857.3 L1492.1 856.3 L1493.2 855.2 L1494.2 854.2 L1495.3 853.1 L1496.4 852.1 L1497.4 851.0 L1498.5 850.0 L1499.6 848.9 L1500.7 847.9 L1501.7 846.8 L1502.8 845.8 L1503.9 844.7 L1505.0 843.7 L1506.0 842.7 L1507.1 841.6 L1508.2 840.6 L1509.3 839.5 L1510.4 838.5 L1511.4 837.4 L1512.5 836.4 L1513.6 835.4 L1514.7 834.3 L1515.8 833.3 L1516.9 832.3 L1517.9 831.2 L1519.0 830.2 L1520.1 829.2 L1521.2 828.1 L1522.3 827.1 L1523.4 826.1 L1524.5 825.1 L1525.6 824.0 L1526.7 823.0 L1527.8 822.0 L1528.9 821.0 L1530.0 820.0 L1531.1 818.9 L1532.2 817.9 L1533.3 816.9 L1534.4 815.9 L1535.5 814.9 L1536.6 813.9 L1537.7 812.9 L1538.8 811.9 L1539.9 810.9 L1541.1 809.9 L1542.2 808.9 L1543.3 807.9 L1544.4 806.9 L1545.5 805.9 L1546.6 804.9 L1547.8 803.9 L1548.9 802.9 L1550.0 801.9 L1551.1 800.9 L1552.3 799.9 L1553.4 799.0 L1554.5 798.0 L1555.7 797.0 L1556.8 796.0 L1558.0 795.0 L1559.1 794.1 L1560.2 793.1 L1561.4 792.1 L1562.5 791.2 L1563.7 790.2 L1564.8 789.3 L1566.0 788.3 L1567.2 787.3 L1568.3 786.4 L1569.5 785.4 L1570.6 784.5 L1571.8 783.6 L1573.0 782.6 L1574.1 781.7 L1575.3 780.8 L1576.5 779.8 L1577.7 778.9 L1578.8 778.0 L1580.0 777.0 L1581.2 776.1 L1582.4 775.2 L1583.6 774.3 L1584.8 773.4 L1586.0 772.5 L1587.2 771.6 L1588.4 770.7 L1589.6 769.8 L1590.8 768.9 L1592.0 768.0 L1593.2 767.1 L1594.4 766.2 L1595.6 765.4 L1596.8 764.5 L1598.0 763.6 L1599.3 762.8 L1600.5 761.9 L1601.7 761.0 L1603.0 760.2 L1604.2 759.3 L1605.4 758.5 L1606.7 757.6 L1607.9 756.8 L1609.1 755.9 L1610.4 755.1 L1611.6 754.3 L1612.9 753.5 L1614.1 752.6 L1615.4 751.8 L1616.6 751.0 L1617.9 750.2 L1619.2 749.4 L1620.4 748.6 L1621.7 747.8 L1623.0 747.0 L1624.2 746.2 L1625.5 745.4 L1626.8 744.6 L1628.1 743.8 L1629.3 743.1 L1630.6 742.3 L1631.9 741.5 L1633.2 740.7 L1634.5 740.0 L1635.8 739.2 L1637.1 738.5 L1638.4 737.7 L1639.7 737.0 L1641.0 736.2 L1642.3 735.5 L1643.6 734.8 L1644.9 734.1 L1646.2 733.3 L1647.5 732.6 L1648.9 731.9 L1650.2 731.2 L1651.5 730.5 L1652.8 729.8 L1654.2 729.1 L1655.5 728.4 L1656.8 727.7 L1658.2 727.0 L1659.5 726.4 L1660.8 725.7 L1662.2 725.0 L1663.5 724.4 L1664.9 723.7 L1666.2 723.0 L1667.6 722.4 L1668.9 721.7 L1670.3 721.1 L1671.6 720.5 L1673.0 719.8 L1674.3 719.2 L1675.7 718.6 L1677.1 718.0 L1678.4 717.4 L1679.8 716.7 L1681.2 716.1 L1682.6 715.5 L1683.9 715.0 L1685.3 714.4 L1686.7 713.8 L1688.1 713.2 L1689.5 712.6 L1690.8 712.1 L1692.2 711.5 L1693.6 710.9 L1695.0 710.4 L1696.4 709.8 L1697.8 709.3 L1699.2 708.7 L1700.6 708.2 L1702.0 707.6 L1703.4 707.1 L1704.8 706.6 L1706.2 706.1 L1707.6 705.5 L1709.0 705.0 L1710.4 704.5 L1711.8 704.0 L1713.3 703.5 L1714.7 703.0 L1716.1 702.5 L1717.5 702.0 L1718.9 701.6 L1720.3 701.1 L1721.8 700.6 L1723.2 700.1 L1724.6 699.7 L1726.0 699.2 L1727.5 698.7 L1728.9 698.3 L1730.3 697.8 L1731.8 697.4 L1733.2 696.9 L1734.6 696.5 L1736.1 696.0 L1737.5 695.6 L1738.9 695.2 L1740.4 694.7 L1741.8 694.3 L1743.2 693.9 L1744.7 693.5 L1746.1 693.1 L1747.6 692.7 L1749.0 692.2 L1750.4 691.8 L1751.9 691.4 L1753.3 691.0 L1754.8 690.6 L1756.2 690.2 L1757.7 689.9 L1759.1 689.5 L1760.6 689.1 L1762.0 688.7 L1763.5 688.3 L1764.9 687.9 L1766.4 687.6 L1767.8 687.2 L1769.3 686.8 L1770.7 686.5 L1772.2 686.1 L1773.7 685.7 L1775.1 685.4 L1776.6 685.0 L1778.0 684.7 L1779.5 684.3 L1780.9 684.0 L1782.4 683.6 L1783.9 683.3 L1785.3 682.9 L1786.8 682.6 L1788.2 682.3 L1789.7 681.9 L1791.2 681.6 L1792.6 681.2 L1794.1 680.9 L1795.5 680.6 L1797.0 680.2 L1798.5 679.9 L1799.9 679.6 L1801.4 679.3 L1802.9 678.9 L1804.3 678.6 L1805.8 678.3 L1807.3 678.0 L1808.7 677.7 L1810.2 677.3 L1811.7 677.0 L1813.1 676.7 L1814.6 676.4 L1816.1 676.1 L1817.5 675.8 L1819.0 675.4 L1820.5 675.1 L1821.9 674.8 L1823.4 674.5 L1824.9 674.2 L1826.3 673.9 L1827.8 673.6 L1829.3 673.3 L1830.7 672.9 L1832.2 672.6 L1833.7 672.3 L1835.1 672.0 L1836.6 671.7 L1838.1 671.4 L1839.5 671.1 L1841.0 670.8 L1842.5 670.5 L1843.0 670.4" fill="none" stroke="#151515" stroke-width="5.5" stroke-linejoin="round" stroke-linecap="butt"/>
<path d="M405.0 616.2 L406.5 616.0 L408.0 615.8 L409.5 615.6 L410.9 615.4 L412.4 615.2 L413.9 615.0 L415.4 614.7 L416.9 614.5 L418.4 614.3 L419.9 614.1 L421.3 613.9 L422.8 613.7 L424.3 613.4 L425.8 613.2 L427.3 613.0 L428.8 612.8 L430.2 612.5 L431.7 612.3 L433.2 612.1 L434.7 611.8 L436.2 611.6 L437.6 611.3 L439.1 611.1 L440.6 610.8 L442.1 610.6 L443.6 610.3 L445.0 610.1 L446.5 609.8 L448.0 609.6 L449.5 609.3 L450.9 609.0 L452.4 608.8 L453.9 608.5 L455.4 608.2 L456.9 607.9 L458.3 607.7 L459.8 607.4 L461.3 607.1 L462.7 606.8 L464.2 606.5 L465.7 606.2 L467.2 605.9 L468.6 605.6 L470.1 605.3 L471.6 605.0 L473.0 604.7 L474.5 604.4 L476.0 604.1 L477.4 603.8 L478.9 603.5 L480.4 603.2 L481.8 602.8 L483.3 602.5 L484.8 602.2 L486.2 601.9 L487.7 601.5 L489.2 601.2 L490.6 600.9 L492.1 600.5 L493.5 600.2 L495.0 599.8 L496.5 599.5 L497.9 599.1 L499.4 598.8 L500.8 598.4 L502.3 598.1 L503.7 597.7 L505.2 597.3 L506.7 597.0 L508.1 596.6 L509.6 596.2 L511.0 595.8 L512.5 595.5 L513.9 595.1 L515.4 594.7 L516.8 594.3 L518.3 593.9 L519.7 593.5 L521.2 593.1 L522.6 592.7 L524.0 592.3 L525.5 591.9 L526.9 591.5 L528.4 591.1 L529.8 590.7 L531.3 590.2 L532.7 589.8 L534.1 589.4 L535.6 589.0 L537.0 588.5 L538.4 588.1 L539.9 587.7 L541.3 587.2 L542.8 586.8 L544.2 586.3 L545.6 585.9 L547.0 585.4 L548.5 585.0 L549.9 584.5 L551.3 584.0 L552.8 583.6 L554.2 583.1 L555.6 582.6 L557.0 582.2 L558.5 581.7 L559.9 581.2 L561.3 580.7 L562.7 580.2 L564.1 579.7 L565.5 579.2 L567.0 578.7 L568.4 578.2 L569.8 577.7 L571.2 577.2 L572.6 576.7 L574.0 576.2 L575.4 575.7 L576.8 575.2 L578.3 574.6 L579.7 574.1 L581.1 573.6 L582.5 573.1 L583.9 572.5 L585.3 572.0 L586.7 571.4 L588.1 570.9 L589.5 570.4 L590.9 569.8 L592.3 569.3 L593.6 568.7 L595.0 568.1 L596.4 567.6 L597.8 567.0 L599.2 566.4 L600.6 565.9 L602.0 565.3 L603.4 564.7 L604.7 564.1 L606.1 563.5 L607.5 562.9 L608.9 562.4 L610.3 561.8 L611.6 561.2 L613.0 560.6 L614.4 559.9 L615.8 559.3 L617.1 558.7 L618.5 558.1 L619.9 557.5 L621.2 556.9 L622.6 556.3 L624.0 555.6 L625.3 555.0 L626.7 554.4 L628.0 553.7 L629.4 553.1 L630.7 552.4 L632.1 551.7 L633.4 551.1 L634.8 550.4 L636.1 549.7 L637.5 549.0 L638.8 548.3 L640.1 547.6 L641.4 546.9 L642.7 546.2 L644.0 545.4 L645.4 544.7 L646.7 543.9 L647.9 543.2 L649.2 542.4 L650.5 541.6 L651.8 540.8 L653.0 540.0 L654.3 539.1 L655.6 538.3 L656.8 537.5 L658.0 536.6 L659.3 535.7 L660.5 534.8 L661.7 534.0 L662.9 533.1 L664.1 532.1 L665.3 531.2 L666.5 530.3 L667.6 529.3 L668.8 528.4 L669.9 527.4 L671.1 526.4 L672.2 525.4 L673.3 524.4 L674.4 523.4 L675.5 522.4 L676.6 521.3 L677.7 520.3 L678.8 519.2 L679.9 518.2 L680.9 517.1 L682.0 516.0 L683.0 514.9 L684.0 513.8 L685.0 512.7 L686.1 511.6 L687.1 510.5 L688.1 509.3 L689.0 508.2 L690.0 507.0 L691.0 505.9 L691.9 504.7 L692.9 503.5 L693.8 502.4 L694.7 501.2 L695.7 500.0 L696.6 498.8 L697.5 497.6 L698.4 496.4 L699.3 495.1 L700.1 493.9 L701.0 492.7 L701.9 491.5 L702.7 490.2 L703.6 489.0 L704.4 487.7 L705.3 486.5 L706.1 485.2 L706.9 483.9 L707.7 482.7 L708.5 481.4 L709.3 480.1 L710.1 478.9 L710.9 477.6 L711.7 476.3 L712.5 475.0 L713.3 473.7 L714.0 472.4 L714.8 471.1 L715.6 469.9 L716.3 468.6 L717.1 467.3 L717.9 466.0 L718.6 464.7 L719.4 463.4 L720.1 462.1 L720.9 460.8 L721.7 459.5 L722.4 458.2 L723.2 456.9 L723.9 455.6 L724.7 454.3 L725.5 453.0 L726.2 451.8 L727.0 450.5 L727.8 449.2 L728.5 447.9 L729.3 446.6 L730.1 445.3 L730.9 444.1 L731.6 442.8 L732.4 441.5 L733.2 440.2 L734.0 438.9 L734.8 437.6 L735.5 436.4 L736.3 435.1 L737.1 433.8 L737.9 432.5 L738.7 431.2 L739.4 429.9 L740.2 428.7 L741.0 427.4 L741.7 426.1 L742.5 424.8 L743.3 423.5 L744.0 422.2 L744.8 420.9 L745.5 419.6 L746.3 418.3 L747.0 417.0 L747.8 415.7 L748.5 414.4 L749.3 413.1 L750.0 411.7 L750.7 410.4 L751.4 409.1 L752.2 407.8 L752.9 406.5 L753.6 405.1 L754.3 403.8 L755.0 402.5 L755.7 401.2 L756.4 399.8 L757.1 398.5 L757.8 397.2 L758.5 395.8 L759.2 394.5 L759.9 393.2 L760.5 391.8 L761.2 390.5 L761.9 389.1 L762.6 387.8 L763.3 386.4 L763.9 385.1 L764.6 383.8 L765.3 382.4 L765.9 381.1 L766.6 379.7 L767.2 378.4 L767.9 377.0 L768.5 375.7 L769.2 374.3 L769.8 372.9 L770.5 371.6 L771.1 370.2 L771.8 368.9 L772.4 367.5 L773.1 366.2 L773.7 364.8 L774.3 363.4 L775.0 362.1 L775.6 360.7 L776.2 359.3 L776.9 358.0 L777.5 356.6 L778.1 355.3 L778.7 353.9 L779.4 352.5 L780.0 351.2 L780.6 349.8 L781.2 348.4 L781.8 347.0 L782.4 345.7 L783.1 344.3 L783.7 342.9 L784.3 341.6 L784.9 340.2 L785.5 338.8 L786.1 337.4 L786.7 336.1 L787.3 334.7 L787.9 333.3 L788.5 331.9 L789.1 330.6 L789.7 329.2 L790.3 327.8 L790.9 326.4 L791.5 325.1 L792.1 323.7 L792.7 322.3 L793.3 320.9 L793.9 319.5 L794.5 318.2 L795.1 316.8 L795.7 315.4 L796.3 314.0 L796.8 312.7 L797.4 311.3 L798.0 309.9 L798.6 308.5 L799.2 307.1 L799.8 305.8 L800.4 304.4 L801.0 303.0 L801.6 301.6 L802.1 300.2 L802.7 298.8 L803.3 297.5 L803.9 296.1 L804.5 294.7 L805.1 293.3 L805.7 291.9 L806.2 290.6 L806.8 289.2 L807.4 287.8 L808.0 286.4 L808.6 285.0 L809.2 283.7 L809.8 282.3 L810.4 280.9 L810.9 279.5 L811.5 278.1 L812.1 276.8 L812.7 275.4 L813.3 274.0 L813.9 272.6 L814.5 271.3 L815.1 269.9 L815.7 268.5 L816.3 267.1 L816.9 265.8 L817.5 264.4 L818.1 263.0 L818.7 261.6 L819.3 260.3 L819.9 258.9 L820.5 257.5 L821.1 256.1 L821.7 254.8 L822.3 253.4 L822.9 252.0 L823.5 250.7 L824.1 249.3 L824.7 247.9 L825.3 246.6 L826.0 245.2 L826.6 243.8 L827.2 242.5 L827.8 241.1 L828.4 239.7 L829.1 238.4 L829.7 237.0 L830.3 235.7 L831.0 234.3 L831.6 233.0 L832.2 231.6 L832.9 230.2 L833.5 228.9 L834.1 227.5 L834.8 226.2 L835.4 224.8 L836.1 223.5 L836.8 222.2 L837.4 220.8 L838.1 219.5 L838.7 218.1 L839.4 216.8 L840.1 215.5 L840.8 214.1 L841.4 212.8 L842.1 211.5 L842.8 210.1 L843.5 208.8 L844.2 207.5 L844.9 206.2 L845.6 204.9 L846.3 203.5 L847.1 202.2 L847.8 200.9 L848.5 199.6 L849.2 198.3 L850.0 197.0 L850.7 195.7 L851.5 194.4 L852.2 193.2 L853.0 191.9 L853.8 190.6 L854.6 189.3 L855.4 188.1 L856.2 186.8 L857.0 185.5 L857.8 184.3 L858.6 183.1 L859.4 181.8 L860.3 180.6 L861.1 179.4 L862.0 178.2 L862.9 177.0 L863.8 175.8 L864.7 174.6 L865.6 173.4 L866.5 172.2 L867.5 171.1 L868.4 169.9 L869.4 168.8 L870.4 167.7 L871.4 166.6 L872.4 165.5 L873.4 164.5 L874.5 163.4 L875.6 162.4 L876.7 161.4 L877.8 160.4 L878.9 159.4 L880.1 158.5 L881.3 157.6 L882.5 156.8 L883.7 155.9 L885.0 155.1 L886.2 154.4 L887.5 153.7 L888.9 153.0 L890.2 152.4 L891.6 151.8 L893.0 151.4 L894.4 150.9 L895.9 150.6 L897.4 150.3 L898.8 150.1 L900.3 150.0 L901.8 150.0 L903.3 150.0 L904.8 150.1 L906.3 150.4 L907.8 150.7 L909.3 151.1 L910.7 151.5 L912.1 152.0 L913.5 152.6 L914.9 153.3 L916.2 154.0 L917.5 154.8 L918.8 155.6 L920.0 156.5 L921.2 157.4 L922.4 158.3 L923.6 159.3 L924.7 160.3 L925.8 161.4 L926.9 162.4 L928.0 163.5 L929.0 164.6 L930.0 165.8 L931.0 166.9 L932.0 168.1 L932.9 169.3 L933.8 170.5 L934.8 171.7 L935.6 172.9 L936.5 174.1 L937.4 175.4 L938.2 176.7 L939.0 177.9 L939.8 179.2 L940.6 180.5 L941.4 181.8 L942.2 183.1 L942.9 184.4 L943.7 185.7 L944.4 187.1 L945.1 188.4 L945.8 189.7 L946.5 191.1 L947.2 192.4 L947.9 193.8 L948.5 195.1 L949.2 196.5 L949.8 197.8 L950.5 199.2 L951.1 200.6 L951.7 202.0 L952.3 203.3 L952.9 204.7 L953.5 206.1 L954.1 207.5 L954.7 208.9 L955.3 210.3 L955.8 211.7 L956.4 213.1 L957.0 214.5 L957.5 215.9 L958.1 217.3 L958.6 218.7 L959.1 220.1 L959.6 221.5 L960.2 223.0 L960.7 224.4 L961.2 225.8 L961.7 227.2 L962.2 228.6 L962.7 230.1 L963.2 231.5 L963.7 232.9 L964.2 234.3 L964.6 235.8 L965.1 237.2 L965.6 238.6 L966.0 240.1 L966.5 241.5 L966.9 242.9 L967.4 244.4 L967.9 245.8 L968.3 247.2 L968.7 248.7 L969.2 250.1 L969.6 251.6 L970.0 253.0 L970.5 254.4 L970.9 255.9 L971.3 257.3 L971.7 258.8 L972.2 260.2 L972.6 261.7 L973.0 263.1 L973.4 264.6 L973.8 266.0 L974.2 267.4 L974.6 268.9 L975.0 270.3 L975.4 271.8 L975.8 273.2 L976.3 274.7 L976.7 276.1 L977.0 277.6 L977.4 279.0 L977.8 280.5 L978.2 281.9 L978.6 283.4 L979.0 284.8 L979.4 286.3 L979.8 287.7 L980.2 289.2 L980.6 290.6 L981.0 292.1 L981.4 293.5 L981.8 295.0 L982.2 296.4 L982.6 297.9 L982.9 299.3 L983.3 300.8 L983.7 302.2 L984.1 303.7 L984.5 305.1 L984.9 306.6 L985.3 308.0 L985.7 309.5 L986.1 310.9 L986.4 312.3 L986.8 313.8 L987.2 315.2 L987.6 316.7 L988.0 318.1 L988.4 319.6 L988.8 321.0 L989.2 322.5 L989.6 323.9 L990.0 325.4 L990.4 326.8 L990.8 328.3 L991.2 329.7 L991.6 331.1 L992.0 332.6 L992.4 334.0 L992.8 335.5 L993.2 336.9 L993.6 338.3 L994.0 339.8 L994.4 341.2 L994.8 342.7 L995.2 344.1 L995.7 345.5 L996.1 347.0 L996.5 348.4 L996.9 349.8 L997.4 351.3 L997.8 352.7 L998.2 354.1 L998.6 355.6 L999.1 357.0 L999.5 358.4 L1000.0 359.9 L1000.4 361.3 L1000.9 362.7 L1001.3 364.1 L1001.8 365.6 L1002.2 367.0 L1002.7 368.4 L1003.1 369.9 L1003.6 371.3 L1004.0 372.7 L1004.5 374.1 L1005.0 375.5 L1005.4 377.0 L1005.9 378.4 L1006.4 379.8 L1006.9 381.2 L1007.3 382.6 L1007.8 384.1 L1008.3 385.5 L1008.8 386.9 L1009.3 388.3 L1009.8 389.7 L1010.2 391.1 L1010.7 392.6 L1011.2 394.0 L1011.7 395.4 L1012.2 396.8 L1012.7 398.2 L1013.2 399.6 L1013.7 401.0 L1014.2 402.5 L1014.7 403.9 L1015.2 405.3 L1015.7 406.7 L1016.2 408.1 L1016.7 409.5 L1017.2 410.9 L1017.7 412.3 L1018.2 413.8 L1018.7 415.2 L1019.2 416.6 L1019.7 418.0 L1020.2 419.4 L1020.7 420.8 L1021.3 422.2 L1021.8 423.6 L1022.3 425.1 L1022.8 426.5 L1023.3 427.9 L1023.8 429.3 L1024.3 430.7 L1024.8 432.1 L1025.3 433.5 L1025.8 435.0 L1026.3 436.4 L1026.8 437.8 L1027.3 439.2 L1027.8 440.6 L1028.2 442.0 L1028.7 443.5 L1029.2 444.9 L1029.7 446.3 L1030.2 447.7 L1030.7 449.1 L1031.2 450.6 L1031.7 452.0 L1032.2 453.4 L1032.7 454.8 L1033.2 456.2 L1033.6 457.7 L1034.1 459.1 L1034.6 460.5 L1035.1 461.9 L1035.6 463.3 L1036.1 464.8 L1036.6 466.2 L1037.0 467.6 L1037.5 469.0 L1038.0 470.4 L1038.5 471.9 L1039.0 473.3 L1039.4 474.7 L1039.9 476.1 L1040.4 477.5 L1040.9 479.0 L1041.4 480.4 L1041.9 481.8 L1042.3 483.2 L1042.8 484.6 L1043.3 486.1 L1043.8 487.5 L1044.3 488.9 L1044.7 490.3 L1045.2 491.8 L1045.7 493.2 L1046.2 494.6 L1046.6 496.0 L1047.1 497.4 L1047.6 498.9 L1048.1 500.3 L1048.6 501.7 L1049.0 503.1 L1049.5 504.5 L1050.0 506.0 L1050.5 507.4 L1051.0 508.8 L1051.4 510.2 L1051.9 511.7 L1052.4 513.1 L1052.9 514.5 L1053.3 515.9 L1053.8 517.3 L1054.3 518.8 L1054.8 520.2 L1055.3 521.6 L1055.7 523.0 L1056.2 524.4 L1056.7 525.9 L1057.2 527.3 L1057.7 528.7 L1058.2 530.1 L1058.6 531.5 L1059.1 533.0 L1059.6 534.4 L1060.1 535.8 L1060.6 537.2 L1061.1 538.6 L1061.5 540.1 L1062.0 541.5 L1062.5 542.9 L1063.0 544.3 L1063.5 545.7 L1064.0 547.2 L1064.5 548.6 L1064.9 550.0 L1065.4 551.4 L1065.9 552.8 L1066.4 554.2 L1066.9 555.7 L1067.4 557.1 L1067.9 558.5 L1068.4 559.9 L1068.9 561.3 L1069.4 562.7 L1069.9 564.1 L1070.4 565.6 L1070.9 567.0 L1071.3 568.4 L1071.8 569.8 L1072.3 571.2 L1072.8 572.6 L1073.3 574.0 L1073.9 575.5 L1074.4 576.9 L1074.9 578.3 L1075.4 579.7 L1075.9 581.1 L1076.4 582.5 L1076.9 583.9 L1077.4 585.3 L1077.9 586.7 L1078.4 588.1 L1078.9 589.5 L1079.4 591.0 L1080.0 592.4 L1080.5 593.8 L1081.0 595.2 L1081.5 596.6 L1082.0 598.0 L1082.6 599.4 L1083.1 600.8 L1083.6 602.2 L1084.1 603.6 L1084.7 605.0 L1085.2 606.4 L1085.7 607.8 L1086.3 609.2 L1086.8 610.6 L1087.3 612.0 L1087.9 613.4 L1088.4 614.8 L1089.0 616.2 L1089.5 617.6 L1090.1 619.0 L1090.6 620.4 L1091.2 621.8 L1091.7 623.1 L1092.3 624.5 L1092.8 625.9 L1093.4 627.3 L1093.9 628.7 L1094.5 630.1 L1095.0 631.5 L1095.6 632.9 L1096.2 634.3 L1096.7 635.7 L1097.3 637.0 L1097.9 638.4 L1098.4 639.8 L1099.0 641.2 L1099.6 642.6 L1100.1 644.0 L1100.7 645.4 L1101.3 646.7 L1101.9 648.1 L1102.5 649.5 L1103.0 650.9 L1103.6 652.3 L1104.2 653.6 L1104.8 655.0 L1105.4 656.4 L1106.0 657.8 L1106.6 659.1 L1107.2 660.5 L1107.7 661.9 L1108.3 663.3 L1108.9 664.6 L1109.5 666.0 L1110.1 667.4 L1110.7 668.8 L1111.4 670.1 L1112.0 671.5 L1112.6 672.9 L1113.2 674.2 L1113.8 675.6 L1114.4 677.0 L1115.0 678.3 L1115.6 679.7 L1116.3 681.1 L1116.9 682.4 L1117.5 683.8 L1118.1 685.2 L1118.7 686.5 L1119.4 687.9 L1120.0 689.2 L1120.6 690.6 L1121.3 692.0 L1121.9 693.3 L1122.5 694.7 L1123.2 696.0 L1123.8 697.4 L1124.4 698.7 L1125.1 700.1 L1125.7 701.4 L1126.4 702.8 L1127.0 704.1 L1127.7 705.5 L1128.3 706.8 L1129.0 708.2 L1129.6 709.5 L1130.3 710.9 L1130.9 712.2 L1131.6 713.6 L1132.3 714.9 L1132.9 716.3 L1133.6 717.6 L1134.2 719.0 L1134.9 720.3 L1135.6 721.6 L1136.2 723.0 L1136.9 724.3 L1137.6 725.7 L1138.3 727.0 L1138.9 728.3 L1139.6 729.7 L1140.3 731.0 L1141.0 732.4 L1141.6 733.7 L1142.3 735.0 L1143.0 736.4 L1143.7 737.7 L1144.4 739.0 L1145.1 740.4 L1145.7 741.7 L1146.4 743.0 L1147.1 744.3 L1147.8 745.7 L1148.5 747.0 L1149.2 748.3 L1149.9 749.7 L1150.6 751.0 L1151.3 752.3 L1152.0 753.6 L1152.7 755.0 L1153.4 756.3 L1154.1 757.6 L1154.8 758.9 L1155.5 760.3 L1156.2 761.6 L1156.9 762.9 L1157.6 764.2 L1158.3 765.5 L1159.1 766.9 L1159.8 768.2 L1160.5 769.5 L1161.2 770.8 L1161.9 772.1 L1162.6 773.4 L1163.3 774.8 L1164.1 776.1 L1164.8 777.4 L1165.5 778.7 L1166.2 780.0 L1166.9 781.3 L1167.7 782.7 L1168.4 784.0 L1169.1 785.3 L1169.8 786.6 L1170.6 787.9 L1171.3 789.2 L1172.0 790.5 L1172.7 791.8 L1173.5 793.1 L1174.2 794.5 L1174.9 795.8 L1175.7 797.1 L1176.4 798.4 L1177.1 799.7 L1177.9 801.0 L1178.6 802.3 L1179.4 803.6 L1180.1 804.9 L1180.8 806.2 L1181.6 807.5 L1182.3 808.8 L1183.1 810.1 L1183.8 811.4 L1184.6 812.7 L1185.3 814.0 L1186.1 815.3 L1186.8 816.6 L1187.6 817.9 L1188.3 819.2 L1189.1 820.5 L1189.8 821.8 L1190.6 823.1 L1191.3 824.4 L1192.1 825.7 L1192.9 827.0 L1193.6 828.2 L1194.4 829.5 L1195.1 830.8 L1195.9 832.1 L1196.7 833.4 L1197.4 834.7 L1198.2 836.0 L1199.0 837.2 L1199.8 838.5 L1200.5 839.8 L1201.3 841.1 L1202.1 842.4 L1202.9 843.7 L1203.7 844.9 L1204.4 846.2 L1205.2 847.5 L1206.0 848.8 L1206.8 850.0 L1207.6 851.3 L1208.4 852.6 L1209.2 853.8 L1210.0 855.1 L1210.8 856.4 L1211.6 857.7 L1212.4 858.9 L1213.2 860.2 L1214.0 861.4 L1214.8 862.7 L1215.6 864.0 L1216.4 865.2 L1217.2 866.5 L1218.0 867.7 L1218.9 869.0 L1219.7 870.3 L1220.5 871.5 L1221.3 872.8 L1222.1 874.0 L1223.0 875.3 L1223.8 876.5 L1224.6 877.8 L1225.4 879.1 L1226.2 880.3 L1227.0 881.6 L1227.9 882.8 L1228.7 884.1 L1229.5 885.4 L1230.3 886.7 L1231.0 888.0 L1231.8 889.2 L1232.6 890.5 L1233.4 891.8 L1234.1 893.1 L1234.9 894.4 L1235.6 895.7 L1236.4 897.0 L1237.1 898.4 L1237.9 899.7 L1238.6 901.0 L1239.3 902.3 L1240.0 903.7 L1240.7 905.0 L1241.4 906.3 L1242.1 907.7 L1242.8 909.0 L1243.5 910.3 L1244.1 911.6 L1244.8 913.0 L1245.6 914.3 L1246.3 915.6 L1247.0 916.9 L1247.8 918.1 L1248.5 919.4 L1249.3 920.7 L1250.1 921.9 L1250.9 923.2 L1251.8 924.4 L1252.6 925.6 L1253.5 926.8 L1254.4 928.0 L1255.3 929.2 L1256.2 930.3 L1257.1 931.5 L1258.1 932.6 L1259.1 933.7 L1260.1 934.8 L1261.1 935.9 L1262.2 936.9 L1263.3 937.9 L1264.4 938.9 L1265.5 939.9 L1266.6 940.9 L1267.8 941.8 L1268.9 942.7 L1270.1 943.6 L1271.3 944.5 L1272.6 945.4 L1273.8 946.2 L1275.1 947.0 L1276.3 947.8 L1277.6 948.6 L1278.9 949.4 L1280.2 950.1 L1281.5 950.9 L1282.8 951.6 L1284.1 952.4 L1285.4 953.1 L1286.7 953.8 L1288.0 954.5 L1289.3 955.2 L1290.7 955.9 L1292.0 956.6 L1293.3 957.3 L1294.7 957.9 L1296.0 958.6 L1297.4 959.2 L1298.7 959.8 L1300.1 960.4 L1301.5 961.0 L1302.8 961.6 L1304.2 962.2 L1305.6 962.8 L1307.0 963.3 L1308.4 963.8 L1309.8 964.3 L1311.2 964.8 L1312.7 965.3 L1314.1 965.8 L1315.5 966.2 L1316.9 966.7 L1318.4 967.1 L1319.8 967.5 L1321.3 967.8 L1322.7 968.2 L1324.2 968.5 L1325.7 968.8 L1327.1 969.1 L1328.6 969.4 L1330.1 969.7 L1331.5 969.9 L1333.0 970.1 L1334.5 970.3 L1336.0 970.5 L1337.5 970.6 L1339.0 970.8 L1340.5 970.9 L1342.0 971.0 L1343.5 971.1 L1345.0 971.1 L1346.5 971.2 L1348.0 971.2 L1349.5 971.2 L1351.0 971.2 L1352.5 971.1 L1354.0 971.1 L1355.5 971.0 L1357.0 970.9 L1358.5 970.8 L1360.0 970.7 L1361.5 970.5 L1362.9 970.4 L1364.4 970.2 L1365.9 970.0 L1367.4 969.8 L1368.9 969.5 L1370.4 969.3 L1371.9 969.0 L1373.3 968.7 L1374.8 968.4 L1376.3 968.1 L1377.7 967.8 L1379.2 967.4 L1380.6 967.1 L1382.1 966.7 L1383.6 966.3 L1385.0 965.9 L1386.4 965.5 L1387.9 965.0 L1389.3 964.6 L1390.7 964.1 L1392.2 963.7 L1393.6 963.2 L1395.0 962.7 L1396.4 962.2 L1397.8 961.7 L1399.2 961.1 L1400.6 960.6 L1402.0 960.1 L1403.4 959.5 L1404.8 958.9 L1406.2 958.3 L1407.6 957.7 L1409.0 957.1 L1410.3 956.5 L1411.7 955.9 L1413.1 955.3 L1414.4 954.6 L1415.8 954.0 L1417.1 953.3 L1418.5 952.6 L1419.8 952.0 L1421.2 951.3 L1422.5 950.6 L1423.8 949.9 L1425.1 949.2 L1426.5 948.5 L1427.8 947.7 L1429.1 947.0 L1430.4 946.3 L1431.7 945.5 L1433.0 944.8 L1434.3 944.0 L1435.6 943.3 L1436.9 942.5 L1438.2 941.7 L1439.5 940.9 L1440.7 940.1 L1442.0 939.3 L1443.3 938.5 L1444.5 937.7 L1445.8 936.9 L1447.1 936.1 L1448.3 935.3 L1449.6 934.5 L1450.8 933.6 L1452.1 932.8 L1453.3 932.0 L1454.6 931.1 L1455.8 930.3 L1457.0 929.4 L1458.3 928.5 L1459.5 927.7 L1460.7 926.8 L1462.0 925.9 L1463.2 925.1 L1464.4 924.2 L1465.6 923.3 L1466.8 922.4 L1468.0 921.5 L1469.2 920.6 L1470.4 919.7 L1471.6 918.8 L1472.8 917.9 L1474.0 917.0 L1475.2 916.1 L1476.4 915.2 L1477.6 914.3 L1478.8 913.4 L1480.0 912.4 L1481.2 911.5 L1482.3 910.6 L1483.5 909.6 L1484.7 908.7 L1485.9 907.8 L1487.0 906.8 L1488.2 905.9 L1489.4 904.9 L1490.5 904.0 L1491.7 903.0 L1492.8 902.1 L1494.0 901.1 L1495.2 900.2 L1496.3 899.2 L1497.5 898.3 L1498.6 897.3 L1499.8 896.3 L1500.9 895.4 L1502.1 894.4 L1503.2 893.4 L1504.3 892.4 L1505.5 891.5 L1506.6 890.5 L1507.8 889.5 L1508.9 888.5 L1510.0 887.5 L1511.2 886.6 L1512.3 885.6 L1513.4 884.6 L1514.6 883.6 L1515.7 882.6 L1516.8 881.6 L1517.9 880.6 L1519.1 879.6 L1520.2 878.6 L1521.3 877.6 L1522.4 876.6 L1523.5 875.6 L1524.7 874.6 L1525.8 873.6 L1526.9 872.6 L1528.0 871.6 L1529.1 870.6 L1530.2 869.6 L1531.3 868.6 L1532.4 867.6 L1533.6 866.6 L1534.7 865.6 L1535.8 864.6 L1536.9 863.5 L1538.0 862.5 L1539.1 861.5 L1540.2 860.5 L1541.3 859.5 L1542.4 858.5 L1543.5 857.4 L1544.6 856.4 L1545.7 855.4 L1546.8 854.4 L1547.9 853.4 L1549.0 852.3 L1550.1 851.3 L1551.2 850.3 L1552.3 849.3 L1553.4 848.3 L1554.5 847.2 L1555.6 846.2 L1556.7 845.2 L1557.8 844.2 L1558.9 843.1 L1560.0 842.1 L1561.1 841.1 L1562.2 840.1 L1563.3 839.0 L1564.4 838.0 L1565.5 837.0 L1566.5 836.0 L1567.6 834.9 L1568.7 833.9 L1569.8 832.9 L1570.9 831.8 L1572.0 830.8 L1573.1 829.8 L1574.2 828.8 L1575.3 827.7 L1576.4 826.7 L1577.5 825.7 L1578.6 824.7 L1579.7 823.6 L1580.8 822.6 L1581.9 821.6 L1583.0 820.6 L1584.1 819.5 L1585.1 818.5 L1586.2 817.5 L1587.3 816.5 L1588.4 815.4 L1589.5 814.4 L1590.6 813.4 L1591.7 812.4 L1592.8 811.3 L1593.9 810.3 L1595.0 809.3 L1596.1 808.3 L1597.2 807.3 L1598.3 806.2 L1599.4 805.2 L1600.5 804.2 L1601.6 803.2 L1602.7 802.2 L1603.8 801.2 L1604.9 800.1 L1606.0 799.1 L1607.1 798.1 L1608.2 797.1 L1609.4 796.1 L1610.5 795.1 L1611.6 794.1 L1612.7 793.1 L1613.8 792.1 L1614.9 791.1 L1616.0 790.1 L1617.1 789.0 L1618.2 788.0 L1619.4 787.0 L1620.5 786.0 L1621.6 785.0 L1622.7 784.0 L1623.8 783.1 L1625.0 782.1 L1626.1 781.1 L1627.2 780.1 L1628.3 779.1 L1629.5 778.1 L1630.6 777.1 L1631.7 776.1 L1632.8 775.1 L1634.0 774.1 L1635.1 773.2 L1636.2 772.2 L1637.4 771.2 L1638.5 770.2 L1639.7 769.3 L1640.8 768.3 L1641.9 767.3 L1643.1 766.3 L1644.2 765.4 L1645.4 764.4 L1646.5 763.5 L1647.7 762.5 L1648.8 761.5 L1650.0 760.6 L1651.1 759.6 L1652.3 758.7 L1653.5 757.7 L1654.6 756.8 L1655.8 755.8 L1657.0 754.9 L1658.1 754.0 L1659.3 753.0 L1660.5 752.1 L1661.6 751.2 L1662.8 750.2 L1664.0 749.3 L1665.2 748.4 L1666.4 747.5 L1667.5 746.6 L1668.7 745.6 L1669.9 744.7 L1671.1 743.8 L1672.3 742.9 L1673.5 742.0 L1674.7 741.1 L1675.9 740.2 L1677.1 739.4 L1678.3 738.5 L1679.6 737.6 L1680.8 736.7 L1682.0 735.8 L1683.2 735.0 L1684.4 734.1 L1685.7 733.2 L1686.9 732.4 L1688.1 731.5 L1689.4 730.7 L1690.6 729.8 L1691.8 729.0 L1693.1 728.2 L1694.3 727.3 L1695.6 726.5 L1696.8 725.7 L1698.1 724.9 L1699.3 724.1 L1700.6 723.2 L1701.9 722.4 L1703.1 721.6 L1704.4 720.8 L1705.7 720.0 L1706.9 719.3 L1708.2 718.5 L1709.5 717.7 L1710.8 716.9 L1712.1 716.2 L1713.4 715.4 L1714.7 714.6 L1715.9 713.9 L1717.2 713.1 L1718.5 712.4 L1719.9 711.7 L1721.2 710.9 L1722.5 710.2 L1723.8 709.5 L1725.1 708.8 L1726.4 708.0 L1727.7 707.3 L1729.1 706.6 L1730.4 705.9 L1731.7 705.3 L1733.0 704.6 L1734.4 703.9 L1735.7 703.2 L1737.1 702.5 L1738.4 701.9 L1739.8 701.2 L1741.1 700.6 L1742.5 699.9 L1743.8 699.3 L1745.2 698.7 L1746.5 698.0 L1747.9 697.4 L1749.3 696.8 L1750.6 696.2 L1752.0 695.6 L1753.4 695.0 L1754.8 694.4 L1756.1 693.8 L1757.5 693.2 L1758.9 692.6 L1760.3 692.1 L1761.7 691.5 L1763.1 691.0 L1764.5 690.4 L1765.9 689.9 L1767.3 689.3 L1768.7 688.8 L1770.1 688.3 L1771.5 687.8 L1772.9 687.3 L1774.3 686.8 L1775.7 686.3 L1777.1 685.8 L1778.5 685.3 L1780.0 684.8 L1781.4 684.4 L1782.8 683.9 L1784.2 683.5 L1785.7 683.0 L1787.1 682.6 L1788.5 682.1 L1790.0 681.7 L1791.4 681.3 L1792.9 680.9 L1794.3 680.5 L1795.8 680.1 L1797.2 679.7 L1798.7 679.3 L1800.1 678.9 L1801.6 678.6 L1803.0 678.2 L1804.5 677.9 L1805.9 677.5 L1807.4 677.2 L1808.9 676.8 L1810.3 676.5 L1811.8 676.2 L1813.2 675.9 L1814.7 675.6 L1816.2 675.3 L1817.7 675.0 L1819.1 674.8 L1820.6 674.5 L1822.1 674.2 L1823.6 674.0 L1825.0 673.7 L1826.5 673.5 L1828.0 673.3 L1829.5 673.0 L1831.0 672.8 L1832.5 672.6 L1833.9 672.4 L1835.4 672.2 L1836.9 672.1 L1838.4 671.9 L1839.9 671.7 L1841.4 671.6 L1842.9 671.4 L1843.0 671.4" fill="none" stroke="#d0303c" stroke-width="5.5" stroke-linejoin="round" stroke-linecap="butt"/>
<path d="M405.0 636.7 L406.5 636.6 L408.0 636.6 L409.5 636.5 L411.0 636.5 L412.5 636.4 L414.0 636.4 L415.5 636.3 L417.0 636.3 L418.5 636.3 L420.0 636.2 L421.5 636.2 L423.0 636.1 L424.5 636.1 L426.0 636.0 L427.5 636.0 L429.0 635.9 L430.5 635.9 L432.0 635.9 L433.5 635.8 L435.0 635.8 L436.5 635.7 L438.0 635.7 L439.5 635.6 L441.0 635.6 L442.5 635.5 L444.0 635.5 L445.5 635.5 L447.0 635.4 L448.5 635.4 L450.0 635.3 L451.5 635.3 L453.0 635.2 L454.5 635.2 L456.0 635.1 L457.5 635.1 L459.0 635.1 L460.5 635.0 L462.0 635.0 L463.5 634.9 L465.0 634.9 L466.5 634.8 L468.0 634.8 L469.5 634.7 L471.0 634.7 L472.5 634.6 L474.0 634.6 L475.5 634.6 L477.0 634.5 L478.5 634.5 L480.0 634.4 L481.5 634.4 L483.0 634.3 L484.5 634.3 L486.0 634.2 L487.5 634.2 L489.0 634.1 L490.5 634.1 L492.0 634.1 L493.5 634.0 L495.0 634.0 L496.5 633.9 L498.0 633.9 L499.5 633.8 L501.0 633.8 L502.5 633.7 L504.0 633.7 L505.5 633.6 L507.0 633.6 L508.5 633.5 L510.0 633.5 L511.5 633.4 L513.0 633.4 L514.4 633.3 L515.9 633.3 L517.4 633.2 L518.9 633.2 L520.4 633.1 L521.9 633.1 L523.4 633.0 L524.9 633.0 L526.4 632.9 L527.9 632.9 L529.4 632.8 L530.9 632.8 L532.4 632.7 L533.9 632.7 L535.4 632.6 L536.9 632.6 L538.4 632.5 L539.9 632.5 L541.4 632.4 L542.9 632.4 L544.4 632.3 L545.9 632.3 L547.4 632.2 L548.9 632.2 L550.4 632.1 L551.9 632.0 L553.4 632.0 L554.9 631.9 L556.4 631.9 L557.9 631.8 L559.4 631.8 L560.9 631.7 L562.4 631.7 L563.9 631.6 L565.4 631.5 L566.9 631.5 L568.4 631.4 L569.9 631.4 L571.4 631.3 L572.9 631.2 L574.4 631.2 L575.9 631.1 L577.4 631.1 L578.9 631.0 L580.4 630.9 L581.9 630.9 L583.4 630.8 L584.9 630.7 L586.4 630.7 L587.9 630.6 L589.4 630.6 L590.9 630.5 L592.4 630.4 L593.9 630.4 L595.4 630.3 L596.9 630.2 L598.4 630.2 L599.9 630.1 L601.4 630.0 L602.9 630.0 L604.4 629.9 L605.9 629.8 L607.4 629.7 L608.9 629.7 L610.4 629.6 L611.9 629.5 L613.4 629.5 L614.9 629.4 L616.4 629.3 L617.9 629.2 L619.4 629.2 L620.9 629.1 L622.4 629.0 L623.9 628.9 L625.4 628.9 L626.9 628.8 L628.4 628.7 L629.9 628.6 L631.4 628.6 L632.8 628.5 L634.3 628.4 L635.8 628.3 L637.3 628.2 L638.8 628.2 L640.3 628.1 L641.8 628.0 L643.3 627.9 L644.8 627.8 L646.3 627.7 L647.8 627.7 L649.3 627.6 L650.8 627.5 L652.3 627.4 L653.8 627.3 L655.3 627.2 L656.8 627.1 L658.3 627.0 L659.8 627.0 L661.3 626.9 L662.8 626.8 L664.3 626.7 L665.8 626.6 L667.3 626.5 L668.8 626.4 L670.3 626.3 L671.8 626.2 L673.3 626.1 L674.8 626.0 L676.3 625.9 L677.8 625.8 L679.3 625.7 L680.8 625.6 L682.3 625.5 L683.8 625.4 L685.3 625.3 L686.8 625.2 L688.2 625.1 L689.7 625.0 L691.2 624.9 L692.7 624.8 L694.2 624.7 L695.7 624.6 L697.2 624.5 L698.7 624.4 L700.2 624.3 L701.7 624.2 L703.2 624.1 L704.7 624.0 L706.2 623.8 L707.7 623.7 L709.2 623.6 L710.7 623.5 L712.2 623.4 L713.7 623.3 L715.2 623.2 L716.7 623.0 L718.2 622.9 L719.7 622.8 L721.2 622.7 L722.7 622.6 L724.1 622.4 L725.6 622.3 L727.1 622.2 L728.6 622.1 L730.1 621.9 L731.6 621.8 L733.1 621.7 L734.6 621.6 L736.1 621.4 L737.6 621.3 L739.1 621.2 L740.6 621.1 L742.1 620.9 L743.6 620.8 L745.1 620.7 L746.6 620.5 L748.1 620.4 L749.6 620.3 L751.0 620.1 L752.5 620.0 L754.0 619.8 L755.5 619.7 L757.0 619.6 L758.5 619.4 L760.0 619.3 L761.5 619.1 L763.0 619.0 L764.5 618.8 L766.0 618.7 L767.5 618.5 L769.0 618.4 L770.5 618.2 L771.9 618.1 L773.4 617.9 L774.9 617.7 L776.4 617.6 L777.9 617.4 L779.4 617.2 L780.9 617.0 L782.4 616.9 L783.9 616.7 L785.4 616.5 L786.8 616.3 L788.3 616.1 L789.8 615.9 L791.3 615.8 L792.8 615.6 L794.3 615.4 L795.8 615.1 L797.3 614.9 L798.7 614.7 L800.2 614.5 L801.7 614.3 L803.2 614.1 L804.7 613.8 L806.2 613.6 L807.6 613.4 L809.1 613.1 L810.6 612.9 L812.1 612.6 L813.6 612.4 L815.0 612.1 L816.5 611.9 L818.0 611.6 L819.5 611.3 L820.9 611.1 L822.4 610.8 L823.9 610.5 L825.4 610.2 L826.8 609.9 L828.3 609.6 L829.8 609.3 L831.2 609.0 L832.7 608.7 L834.2 608.3 L835.6 608.0 L837.1 607.7 L838.6 607.3 L840.0 607.0 L841.5 606.7 L842.9 606.3 L844.4 605.9 L845.9 605.6 L847.3 605.2 L848.8 604.8 L850.2 604.4 L851.7 604.0 L853.1 603.6 L854.6 603.2 L856.0 602.8 L857.4 602.4 L858.9 602.0 L860.3 601.6 L861.8 601.1 L863.2 600.7 L864.6 600.2 L866.1 599.8 L867.5 599.3 L868.9 598.9 L870.3 598.4 L871.8 597.9 L873.2 597.4 L874.6 596.9 L876.0 596.4 L877.4 595.9 L878.8 595.4 L880.2 594.9 L881.6 594.4 L883.1 593.8 L884.5 593.3 L885.9 592.7 L887.2 592.2 L888.6 591.6 L890.0 591.1 L891.4 590.5 L892.8 589.9 L894.2 589.3 L895.6 588.7 L896.9 588.1 L898.3 587.5 L899.7 586.9 L901.0 586.3 L902.4 585.6 L903.8 585.0 L905.1 584.4 L906.5 583.7 L907.8 583.1 L909.2 582.4 L910.5 581.7 L911.9 581.1 L913.2 580.4 L914.5 579.7 L915.9 579.0 L917.2 578.3 L918.5 577.6 L919.8 576.9 L921.2 576.1 L922.5 575.4 L923.8 574.7 L925.1 573.9 L926.4 573.2 L927.7 572.4 L929.0 571.7 L930.3 570.9 L931.6 570.1 L932.8 569.3 L934.1 568.5 L935.4 567.8 L936.7 567.0 L937.9 566.1 L939.2 565.3 L940.5 564.5 L941.7 563.7 L943.0 562.9 L944.2 562.0 L945.5 561.2 L946.7 560.3 L947.9 559.5 L949.2 558.6 L950.4 557.8 L951.6 556.9 L952.8 556.0 L954.1 555.1 L955.3 554.2 L956.5 553.3 L957.7 552.4 L958.9 551.5 L960.1 550.6 L961.2 549.7 L962.4 548.7 L963.6 547.8 L964.8 546.9 L965.9 545.9 L967.1 544.9 L968.2 544.0 L969.4 543.0 L970.5 542.0 L971.7 541.0 L972.8 540.0 L973.9 539.0 L975.0 538.0 L976.1 537.0 L977.2 536.0 L978.3 535.0 L979.4 533.9 L980.5 532.9 L981.6 531.9 L982.7 530.8 L983.7 529.7 L984.8 528.7 L985.9 527.6 L986.9 526.5 L988.0 525.4 L989.0 524.4 L990.0 523.3 L991.0 522.2 L992.1 521.0 L993.1 519.9 L994.1 518.8 L995.1 517.7 L996.1 516.6 L997.1 515.4 L998.0 514.3 L999.0 513.1 L1000.0 512.0 L1000.9 510.8 L1001.9 509.6 L1002.8 508.5 L1003.8 507.3 L1004.7 506.1 L1005.6 504.9 L1006.6 503.8 L1007.5 502.6 L1008.4 501.4 L1009.3 500.2 L1010.2 499.0 L1011.1 497.8 L1012.0 496.5 L1012.9 495.3 L1013.8 494.1 L1014.6 492.9 L1015.5 491.6 L1016.3 490.4 L1017.2 489.2 L1018.1 487.9 L1018.9 486.7 L1019.7 485.4 L1020.6 484.2 L1021.4 482.9 L1022.2 481.7 L1023.0 480.4 L1023.8 479.1 L1024.7 477.9 L1025.5 476.6 L1026.3 475.3 L1027.0 474.0 L1027.8 472.7 L1028.6 471.5 L1029.4 470.2 L1030.2 468.9 L1030.9 467.6 L1031.7 466.3 L1032.5 465.0 L1033.2 463.7 L1034.0 462.4 L1034.7 461.1 L1035.4 459.8 L1036.2 458.5 L1036.9 457.1 L1037.6 455.8 L1038.4 454.5 L1039.1 453.2 L1039.8 451.9 L1040.5 450.5 L1041.2 449.2 L1041.9 447.9 L1042.6 446.5 L1043.3 445.2 L1044.0 443.9 L1044.7 442.5 L1045.4 441.2 L1046.1 439.9 L1046.7 438.5 L1047.4 437.2 L1048.1 435.8 L1048.7 434.5 L1049.4 433.1 L1050.0 431.8 L1050.7 430.4 L1051.4 429.1 L1052.0 427.7 L1052.6 426.3 L1053.3 425.0 L1053.9 423.6 L1054.6 422.2 L1055.2 420.9 L1055.8 419.5 L1056.4 418.1 L1057.0 416.8 L1057.7 415.4 L1058.3 414.0 L1058.9 412.7 L1059.5 411.3 L1060.1 409.9 L1060.7 408.5 L1061.3 407.1 L1061.9 405.8 L1062.5 404.4 L1063.1 403.0 L1063.7 401.6 L1064.2 400.2 L1064.8 398.8 L1065.4 397.5 L1066.0 396.1 L1066.6 394.7 L1067.1 393.3 L1067.7 391.9 L1068.3 390.5 L1068.8 389.1 L1069.4 387.7 L1070.0 386.3 L1070.5 384.9 L1071.1 383.5 L1071.6 382.1 L1072.2 380.7 L1072.7 379.3 L1073.3 377.9 L1073.8 376.5 L1074.4 375.1 L1074.9 373.7 L1075.4 372.3 L1076.0 370.9 L1076.5 369.5 L1077.0 368.1 L1077.6 366.7 L1078.1 365.3 L1078.6 363.9 L1079.1 362.5 L1079.7 361.1 L1080.2 359.7 L1080.7 358.3 L1081.2 356.9 L1081.8 355.4 L1082.3 354.0 L1082.8 352.6 L1083.3 351.2 L1083.8 349.8 L1084.3 348.4 L1084.8 347.0 L1085.3 345.6 L1085.8 344.1 L1086.3 342.7 L1086.8 341.3 L1087.3 339.9 L1087.8 338.5 L1088.3 337.1 L1088.8 335.6 L1089.3 334.2 L1089.8 332.8 L1090.3 331.4 L1090.8 330.0 L1091.3 328.5 L1091.8 327.1 L1092.3 325.7 L1092.8 324.3 L1093.2 322.9 L1093.7 321.4 L1094.2 320.0 L1094.7 318.6 L1095.2 317.2 L1095.6 315.7 L1096.1 314.3 L1096.6 312.9 L1097.1 311.5 L1097.5 310.0 L1098.0 308.6 L1098.5 307.2 L1099.0 305.8 L1099.4 304.3 L1099.9 302.9 L1100.4 301.5 L1100.8 300.1 L1101.3 298.6 L1101.8 297.2 L1102.2 295.8 L1102.7 294.4 L1103.2 292.9 L1103.6 291.5 L1104.1 290.1 L1104.5 288.6 L1105.0 287.2 L1105.5 285.8 L1105.9 284.3 L1106.4 282.9 L1106.8 281.5 L1107.3 280.1 L1107.7 278.6 L1108.2 277.2 L1108.6 275.8 L1109.1 274.3 L1109.5 272.9 L1110.0 271.5 L1110.4 270.0 L1110.9 268.6 L1111.3 267.2 L1111.8 265.7 L1112.2 264.3 L1112.7 262.9 L1113.1 261.4 L1113.5 260.0 L1114.0 258.6 L1114.4 257.1 L1114.9 255.7 L1115.3 254.3 L1115.7 252.8 L1116.2 251.4 L1116.6 249.9 L1117.1 248.5 L1117.5 247.1 L1117.9 245.6 L1118.4 244.2 L1118.8 242.8 L1119.2 241.3 L1119.7 239.9 L1120.1 238.4 L1120.5 237.0 L1121.0 235.6 L1121.4 234.1 L1121.8 232.7 L1122.2 231.3 L1122.7 229.8 L1123.1 228.4 L1123.5 226.9 L1124.0 225.5 L1124.4 224.1 L1124.8 222.6 L1125.2 221.2 L1125.7 219.8 L1126.1 218.3 L1126.5 216.9 L1126.9 215.4 L1127.4 214.0 L1127.8 212.6 L1128.2 211.1 L1128.7 209.7 L1129.1 208.3 L1129.5 206.8 L1129.9 205.4 L1130.4 203.9 L1130.8 202.5 L1131.2 201.1 L1131.7 199.6 L1132.1 198.2 L1132.5 196.8 L1133.0 195.3 L1133.4 193.9 L1133.8 192.5 L1134.3 191.0 L1134.7 189.6 L1135.2 188.2 L1135.6 186.7 L1136.0 185.3 L1136.5 183.9 L1136.9 182.5 L1137.4 181.0 L1137.8 179.6 L1138.3 178.2 L1138.7 176.7 L1139.2 175.3 L1139.6 173.9 L1140.1 172.5 L1140.6 171.0 L1141.0 169.6 L1141.5 168.2 L1142.0 166.8 L1142.4 165.4 L1142.9 163.9 L1143.4 162.5 L1143.9 161.1 L1144.3 159.7 L1144.8 158.3 L1145.3 156.9 L1145.8 155.5 L1146.3 154.0 L1146.8 152.6 L1147.3 151.2 L1147.8 149.8 L1148.3 148.4 L1148.9 147.0 L1149.4 145.6 L1149.9 144.2 L1150.4 142.8 L1151.0 141.5 L1151.5 140.1 L1152.1 138.7 L1152.7 137.3 L1153.2 135.9 L1153.8 134.6 L1154.4 133.2 L1155.0 131.8 L1155.6 130.5 L1156.2 129.1 L1156.8 127.8 L1157.5 126.4 L1158.1 125.1 L1158.8 123.8 L1159.4 122.4 L1160.1 121.1 L1160.8 119.8 L1161.6 118.5 L1162.3 117.3 L1163.1 116.0 L1163.9 114.7 L1164.7 113.5 L1165.5 112.3 L1166.4 111.1 L1167.3 110.0 L1168.3 108.9 L1169.3 107.8 L1170.3 106.8 L1171.4 105.8 L1172.6 104.9 L1173.8 104.1 L1175.1 103.5 L1176.5 103.0 L1177.9 102.7 L1179.4 102.7 L1180.9 102.9 L1182.4 103.4 L1183.8 104.1 L1185.1 105.0 L1186.3 105.9 L1187.4 107.0 L1188.4 108.2 L1189.4 109.4 L1190.3 110.6 L1191.2 111.9 L1192.0 113.2 L1192.7 114.5 L1193.5 115.9 L1194.2 117.2 L1194.9 118.6 L1195.5 120.0 L1196.2 121.4 L1196.8 122.8 L1197.4 124.2 L1197.9 125.6 L1198.5 127.0 L1199.0 128.4 L1199.6 129.9 L1200.1 131.3 L1200.6 132.7 L1201.1 134.2 L1201.5 135.6 L1202.0 137.0 L1202.5 138.5 L1202.9 139.9 L1203.3 141.4 L1203.8 142.8 L1204.2 144.3 L1204.6 145.7 L1205.0 147.2 L1205.4 148.7 L1205.8 150.1 L1206.2 151.6 L1206.6 153.0 L1207.0 154.5 L1207.4 156.0 L1207.7 157.4 L1208.1 158.9 L1208.4 160.4 L1208.8 161.8 L1209.2 163.3 L1209.5 164.8 L1209.8 166.2 L1210.2 167.7 L1210.5 169.2 L1210.9 170.6 L1211.2 172.1 L1211.5 173.6 L1211.8 175.0 L1212.2 176.5 L1212.5 178.0 L1212.8 179.5 L1213.1 180.9 L1213.4 182.4 L1213.7 183.9 L1214.0 185.4 L1214.3 186.8 L1214.6 188.3 L1214.9 189.8 L1215.2 191.3 L1215.5 192.7 L1215.8 194.2 L1216.1 195.7 L1216.4 197.2 L1216.7 198.7 L1217.0 200.1 L1217.2 201.6 L1217.5 203.1 L1217.8 204.6 L1218.1 206.0 L1218.3 207.5 L1218.6 209.0 L1218.9 210.5 L1219.2 212.0 L1219.4 213.4 L1219.7 214.9 L1219.9 216.4 L1220.2 217.9 L1220.5 219.4 L1220.7 220.8 L1221.0 222.3 L1221.2 223.8 L1221.5 225.3 L1221.8 226.8 L1222.0 228.3 L1222.3 229.7 L1222.5 231.2 L1222.8 232.7 L1223.0 234.2 L1223.3 235.7 L1223.5 237.2 L1223.8 238.6 L1224.0 240.1 L1224.2 241.6 L1224.5 243.1 L1224.7 244.6 L1225.0 246.1 L1225.2 247.5 L1225.4 249.0 L1225.7 250.5 L1225.9 252.0 L1226.1 253.5 L1226.4 255.0 L1226.6 256.4 L1226.8 257.9 L1227.1 259.4 L1227.3 260.9 L1227.5 262.4 L1227.8 263.9 L1228.0 265.4 L1228.2 266.8 L1228.5 268.3 L1228.7 269.8 L1228.9 271.3 L1229.1 272.8 L1229.3 274.3 L1229.6 275.8 L1229.8 277.2 L1230.0 278.7 L1230.2 280.2 L1230.5 281.7 L1230.7 283.2 L1230.9 284.7 L1231.1 286.2 L1231.3 287.6 L1231.5 289.1 L1231.8 290.6 L1232.0 292.1 L1232.2 293.6 L1232.4 295.1 L1232.6 296.6 L1232.8 298.1 L1233.0 299.5 L1233.2 301.0 L1233.5 302.5 L1233.7 304.0 L1233.9 305.5 L1234.1 307.0 L1234.3 308.5 L1234.5 310.0 L1234.7 311.4 L1234.9 312.9 L1235.1 314.4 L1235.3 315.9 L1235.5 317.4 L1235.7 318.9 L1235.9 320.4 L1236.1 321.9 L1236.3 323.3 L1236.5 324.8 L1236.7 326.3 L1237.0 327.8 L1237.2 329.3 L1237.4 330.8 L1237.6 332.3 L1237.8 333.8 L1238.0 335.3 L1238.1 336.7 L1238.3 338.2 L1238.5 339.7 L1238.7 341.2 L1238.9 342.7 L1239.1 344.2 L1239.3 345.7 L1239.5 347.2 L1239.7 348.7 L1239.9 350.1 L1240.1 351.6 L1240.3 353.1 L1240.5 354.6 L1240.7 356.1 L1240.9 357.6 L1241.1 359.1 L1241.3 360.6 L1241.5 362.1 L1241.7 363.5 L1241.8 365.0 L1242.0 366.5 L1242.2 368.0 L1242.4 369.5 L1242.6 371.0 L1242.8 372.5 L1243.0 374.0 L1243.2 375.5 L1243.4 376.9 L1243.5 378.4 L1243.7 379.9 L1243.9 381.4 L1244.1 382.9 L1244.3 384.4 L1244.5 385.9 L1244.7 387.4 L1244.9 388.9 L1245.0 390.4 L1245.2 391.8 L1245.4 393.3 L1245.6 394.8 L1245.8 396.3 L1246.0 397.8 L1246.2 399.3 L1246.3 400.8 L1246.5 402.3 L1246.7 403.8 L1246.9 405.2 L1247.1 406.7 L1247.2 408.2 L1247.4 409.7 L1247.6 411.2 L1247.8 412.7 L1248.0 414.2 L1248.2 415.7 L1248.3 417.2 L1248.5 418.7 L1248.7 420.1 L1248.9 421.6 L1249.1 423.1 L1249.2 424.6 L1249.4 426.1 L1249.6 427.6 L1249.8 429.1 L1250.0 430.6 L1250.1 432.1 L1250.3 433.6 L1250.5 435.0 L1250.7 436.5 L1250.8 438.0 L1251.0 439.5 L1251.2 441.0 L1251.4 442.5 L1251.6 444.0 L1251.7 445.5 L1251.9 447.0 L1252.1 448.5 L1252.3 450.0 L1252.4 451.4 L1252.6 452.9 L1252.8 454.4 L1253.0 455.9 L1253.1 457.4 L1253.3 458.9 L1253.5 460.4 L1253.7 461.9 L1253.8 463.4 L1254.0 464.9 L1254.2 466.3 L1254.4 467.8 L1254.5 469.3 L1254.7 470.8 L1254.9 472.3 L1255.1 473.8 L1255.2 475.3 L1255.4 476.8 L1255.6 478.3 L1255.8 479.8 L1255.9 481.3 L1256.1 482.7 L1256.3 484.2 L1256.4 485.7 L1256.6 487.2 L1256.8 488.7 L1257.0 490.2 L1257.1 491.7 L1257.3 493.2 L1257.5 494.7 L1257.7 496.2 L1257.8 497.6 L1258.0 499.1 L1258.2 500.6 L1258.3 502.1 L1258.5 503.6 L1258.7 505.1 L1258.9 506.6 L1259.0 508.1 L1259.2 509.6 L1259.4 511.1 L1259.5 512.6 L1259.7 514.0 L1259.9 515.5 L1260.0 517.0 L1260.2 518.5 L1260.4 520.0 L1260.6 521.5 L1260.7 523.0 L1260.9 524.5 L1261.1 526.0 L1261.2 527.5 L1261.4 529.0 L1261.6 530.4 L1261.7 531.9 L1261.9 533.4 L1262.1 534.9 L1262.3 536.4 L1262.4 537.9 L1262.6 539.4 L1262.8 540.9 L1262.9 542.4 L1263.1 543.9 L1263.3 545.4 L1263.4 546.8 L1263.6 548.3 L1263.8 549.8 L1263.9 551.3 L1264.1 552.8 L1264.3 554.3 L1264.4 555.8 L1264.6 557.3 L1264.8 558.8 L1265.0 560.3 L1265.1 561.8 L1265.3 563.2 L1265.5 564.7 L1265.6 566.2 L1265.8 567.7 L1266.0 569.2 L1266.1 570.7 L1266.3 572.2 L1266.5 573.7 L1266.6 575.2 L1266.8 576.7 L1267.0 578.1 L1267.1 579.6 L1267.3 581.1 L1267.5 582.6 L1267.6 584.1 L1267.8 585.6 L1268.0 587.1 L1268.1 588.6 L1268.3 590.1 L1268.5 591.6 L1268.6 593.1 L1268.8 594.5 L1269.0 596.0 L1269.1 597.5 L1269.3 599.0 L1269.5 600.5 L1269.6 602.0 L1269.8 603.5 L1270.0 605.0 L1270.2 606.5 L1270.3 608.0 L1270.5 609.5 L1270.7 610.9 L1270.8 612.4 L1271.0 613.9 L1271.2 615.4 L1271.3 616.9 L1271.5 618.4 L1271.7 619.9 L1271.8 621.4 L1272.0 622.9 L1272.2 624.4 L1272.3 625.8 L1272.5 627.3 L1272.7 628.8 L1272.8 630.3 L1273.0 631.8 L1273.2 633.3 L1273.3 634.8 L1273.5 636.3 L1273.7 637.8 L1273.8 639.3 L1274.0 640.8 L1274.2 642.2 L1274.3 643.7 L1274.5 645.2 L1274.7 646.7 L1274.8 648.2 L1275.0 649.7 L1275.2 651.2 L1275.3 652.7 L1275.5 654.2 L1275.7 655.7 L1275.8 657.1 L1276.0 658.6 L1276.2 660.1 L1276.4 661.6 L1276.5 663.1 L1276.7 664.6 L1276.9 666.1 L1277.0 667.6 L1277.2 669.1 L1277.4 670.6 L1277.5 672.1 L1277.7 673.5 L1277.9 675.0 L1278.0 676.5 L1278.2 678.0 L1278.4 679.5 L1278.5 681.0 L1278.7 682.5 L1278.9 684.0 L1279.0 685.5 L1279.2 687.0 L1279.4 688.4 L1279.6 689.9 L1279.7 691.4 L1279.9 692.9 L1280.1 694.4 L1280.2 695.9 L1280.4 697.4 L1280.6 698.9 L1280.7 700.4 L1280.9 701.9 L1281.1 703.3 L1281.3 704.8 L1281.4 706.3 L1281.6 707.8 L1281.8 709.3 L1281.9 710.8 L1282.1 712.3 L1282.3 713.8 L1282.4 715.3 L1282.6 716.8 L1282.8 718.2 L1283.0 719.7 L1283.1 721.2 L1283.3 722.7 L1283.5 724.2 L1283.6 725.7 L1283.8 727.2 L1284.0 728.7 L1284.2 730.2 L1284.3 731.7 L1284.5 733.1 L1284.7 734.6 L1284.8 736.1 L1285.0 737.6 L1285.2 739.1 L1285.4 740.6 L1285.5 742.1 L1285.7 743.6 L1285.9 745.1 L1286.1 746.5 L1286.2 748.0 L1286.4 749.5 L1286.6 751.0 L1286.8 752.5 L1286.9 754.0 L1287.1 755.5 L1287.3 757.0 L1287.4 758.5 L1287.6 759.9 L1287.8 761.4 L1288.0 762.9 L1288.1 764.4 L1288.3 765.9 L1288.5 767.4 L1288.7 768.9 L1288.9 770.4 L1289.0 771.9 L1289.2 773.3 L1289.4 774.8 L1289.6 776.3 L1289.7 777.8 L1289.9 779.3 L1290.1 780.8 L1290.3 782.3 L1290.4 783.8 L1290.6 785.3 L1290.8 786.7 L1291.0 788.2 L1291.2 789.7 L1291.3 791.2 L1291.5 792.7 L1291.7 794.2 L1291.9 795.7 L1292.0 797.2 L1292.2 798.7 L1292.4 800.1 L1292.6 801.6 L1292.8 803.1 L1292.9 804.6 L1293.1 806.1 L1293.3 807.6 L1293.5 809.1 L1293.7 810.6 L1293.9 812.0 L1294.0 813.5 L1294.2 815.0 L1294.4 816.5 L1294.6 818.0 L1294.8 819.5 L1295.0 821.0 L1295.1 822.5 L1295.3 823.9 L1295.5 825.4 L1295.7 826.9 L1295.9 828.4 L1296.1 829.9 L1296.2 831.4 L1296.4 832.9 L1296.6 834.4 L1296.8 835.8 L1297.0 837.3 L1297.2 838.8 L1297.4 840.3 L1297.5 841.8 L1297.7 843.3 L1297.9 844.8 L1298.1 846.3 L1298.3 847.7 L1298.5 849.2 L1298.7 850.7 L1298.9 852.2 L1299.1 853.7 L1299.2 855.2 L1299.4 856.7 L1299.6 858.1 L1299.8 859.6 L1300.0 861.1 L1300.2 862.6 L1300.4 864.1 L1300.6 865.6 L1300.8 867.1 L1301.0 868.6 L1301.2 870.0 L1301.4 871.5 L1301.6 873.0 L1301.8 874.5 L1301.9 876.0 L1302.1 877.5 L1302.3 879.0 L1302.5 880.4 L1302.7 881.9 L1302.9 883.4 L1303.1 884.9 L1303.3 886.4 L1303.5 887.9 L1303.7 889.3 L1303.9 890.8 L1304.1 892.3 L1304.3 893.8 L1304.5 895.3 L1304.7 896.8 L1304.9 898.3 L1305.1 899.7 L1305.3 901.2 L1305.5 902.7 L1305.8 904.2 L1306.0 905.7 L1306.2 907.2 L1306.4 908.6 L1306.6 910.1 L1306.8 911.6 L1307.0 913.1 L1307.2 914.6 L1307.4 916.1 L1307.6 917.5 L1307.8 919.0 L1308.0 920.5 L1308.3 922.0 L1308.5 923.5 L1308.7 925.0 L1308.9 926.4 L1309.1 927.9 L1309.3 929.4 L1309.5 930.9 L1309.8 932.4 L1310.0 933.8 L1310.2 935.3 L1310.4 936.8 L1310.6 938.3 L1310.8 939.8 L1311.1 941.3 L1311.3 942.7 L1311.5 944.2 L1311.7 945.7 L1312.0 947.2 L1312.2 948.7 L1312.4 950.1 L1312.6 951.6 L1312.9 953.1 L1313.1 954.6 L1313.3 956.1 L1313.6 957.5 L1313.8 959.0 L1314.0 960.5 L1314.2 962.0 L1314.5 963.4 L1314.7 964.9 L1315.0 966.4 L1315.2 967.9 L1315.4 969.4 L1315.7 970.8 L1315.9 972.3 L1316.2 973.8 L1316.4 975.3 L1316.6 976.7 L1316.9 978.2 L1317.1 979.7 L1317.4 981.2 L1317.6 982.7 L1317.9 984.1 L1318.1 985.6 L1318.4 987.1 L1318.6 988.6 L1318.9 990.0 L1319.1 991.5 L1319.4 993.0 L1319.6 994.4 L1319.9 995.9 L1320.2 997.4 L1320.4 998.9 L1320.7 1000.3 L1321.0 1001.8 L1321.2 1003.3 L1321.5 1004.8 L1321.8 1006.2 L1322.0 1007.7 L1322.3 1009.2 L1322.6 1010.6 L1322.8 1012.1 L1323.1 1013.6 L1323.4 1015.1 L1323.7 1016.5 L1323.9 1018.0 L1324.2 1019.5 L1324.5 1020.9 L1324.8 1022.4 L1325.1 1023.9 L1325.4 1025.3 L1325.7 1026.8 L1326.0 1028.3 L1326.2 1029.7 L1326.5 1031.2 L1326.8 1032.7 L1327.1 1034.1 L1327.4 1035.6 L1327.7 1037.1 L1328.0 1038.5 L1328.4 1040.0 L1328.7 1041.5 L1329.0 1042.9 L1329.3 1044.4 L1329.6 1045.8 L1329.9 1047.3 L1330.2 1048.8 L1330.6 1050.2 L1330.9 1051.7 L1331.2 1053.1 L1331.5 1054.6 L1331.9 1056.0 L1332.2 1057.5 L1332.6 1059.0 L1332.9 1060.4 L1333.2 1061.9 L1333.6 1063.3 L1333.9 1064.8 L1334.3 1066.2 L1334.6 1067.7 L1335.0 1069.1 L1335.4 1070.6 L1335.7 1072.0 L1336.1 1073.5 L1336.5 1074.9 L1336.8 1076.4 L1337.2 1077.8 L1337.6 1079.3 L1338.0 1080.7 L1338.4 1082.1 L1338.8 1083.6 L1339.1 1085.0 L1339.5 1086.4 L1340.0 1087.9 L1340.4 1089.3 L1340.8 1090.8 L1341.2 1092.2 L1341.6 1093.6 L1342.0 1095.0 L1342.5 1096.5 L1342.9 1097.9 L1343.4 1099.3 L1343.8 1100.7 L1344.3 1102.2 L1344.7 1103.6 L1345.2 1105.0 L1345.7 1106.4 L1346.2 1107.8 L1346.6 1109.2 L1347.1 1110.6 L1347.6 1112.0 L1348.2 1113.4 L1348.7 1114.8 L1349.2 1116.2 L1349.7 1117.6 L1350.3 1119.0 L1350.9 1120.3 L1351.4 1121.7 L1352.0 1123.1 L1352.6 1124.4 L1353.2 1125.8 L1353.8 1127.1 L1354.4 1128.5 L1355.1 1129.8 L1355.8 1131.1 L1356.4 1132.5 L1357.1 1133.8 L1357.8 1135.1 L1358.6 1136.3 L1359.3 1137.6 L1360.1 1138.9 L1360.9 1140.1 L1361.8 1141.3 L1362.6 1142.5 L1363.5 1143.7 L1364.4 1144.8 L1365.4 1145.9 L1366.4 1147.0 L1367.5 1148.0 L1368.6 1148.9 L1369.8 1149.8 L1371.0 1150.6 L1372.3 1151.3 L1373.6 1151.9 L1375.0 1152.4 L1376.5 1152.6 L1378.0 1152.8 L1379.5 1152.7 L1381.0 1152.4 L1382.4 1152.0 L1383.8 1151.4 L1385.2 1150.7 L1386.5 1149.9 L1387.8 1149.1 L1388.9 1148.1 L1390.1 1147.1 L1391.2 1146.0 L1392.2 1144.9 L1393.2 1143.7 L1394.2 1142.5 L1395.1 1141.3 L1396.0 1140.1 L1396.9 1138.9 L1397.8 1137.6 L1398.6 1136.3 L1399.4 1135.0 L1400.2 1133.7 L1401.0 1132.4 L1401.7 1131.1 L1402.4 1129.8 L1403.2 1128.5 L1403.9 1127.1 L1404.6 1125.8 L1405.2 1124.4 L1405.9 1123.1 L1406.6 1121.7 L1407.2 1120.3 L1407.8 1119.0 L1408.5 1117.6 L1409.1 1116.2 L1409.7 1114.8 L1410.3 1113.5 L1410.9 1112.1 L1411.5 1110.7 L1412.1 1109.3 L1412.7 1107.9 L1413.2 1106.5 L1413.8 1105.1 L1414.4 1103.7 L1414.9 1102.3 L1415.5 1100.9 L1416.0 1099.5 L1416.6 1098.1 L1417.1 1096.7 L1417.6 1095.3 L1418.2 1093.9 L1418.7 1092.5 L1419.2 1091.0 L1419.7 1089.6 L1420.2 1088.2 L1420.8 1086.8 L1421.3 1085.4 L1421.8 1084.0 L1422.3 1082.6 L1422.8 1081.1 L1423.3 1079.7 L1423.8 1078.3 L1424.3 1076.9 L1424.8 1075.5 L1425.2 1074.0 L1425.7 1072.6 L1426.2 1071.2 L1426.7 1069.8 L1427.2 1068.3 L1427.7 1066.9 L1428.1 1065.5 L1428.6 1064.1 L1429.1 1062.6 L1429.6 1061.2 L1430.0 1059.8 L1430.5 1058.4 L1431.0 1056.9 L1431.4 1055.5 L1431.9 1054.1 L1432.4 1052.7 L1432.8 1051.2 L1433.3 1049.8 L1433.8 1048.4 L1434.2 1046.9 L1434.7 1045.5 L1435.1 1044.1 L1435.6 1042.7 L1436.1 1041.2 L1436.5 1039.8 L1437.0 1038.4 L1437.4 1036.9 L1437.9 1035.5 L1438.3 1034.1 L1438.8 1032.6 L1439.2 1031.2 L1439.7 1029.8 L1440.1 1028.4 L1440.6 1026.9 L1441.1 1025.5 L1441.5 1024.1 L1442.0 1022.6 L1442.4 1021.2 L1442.9 1019.8 L1443.3 1018.3 L1443.8 1016.9 L1444.2 1015.5 L1444.7 1014.1 L1445.1 1012.6 L1445.6 1011.2 L1446.0 1009.8 L1446.5 1008.3 L1446.9 1006.9 L1447.4 1005.5 L1447.9 1004.1 L1448.3 1002.6 L1448.8 1001.2 L1449.2 999.8 L1449.7 998.3 L1450.1 996.9 L1450.6 995.5 L1451.1 994.1 L1451.5 992.6 L1452.0 991.2 L1452.4 989.8 L1452.9 988.4 L1453.4 986.9 L1453.8 985.5 L1454.3 984.1 L1454.8 982.7 L1455.2 981.2 L1455.7 979.8 L1456.2 978.4 L1456.7 977.0 L1457.1 975.6 L1457.6 974.1 L1458.1 972.7 L1458.6 971.3 L1459.0 969.9 L1459.5 968.5 L1460.0 967.0 L1460.5 965.6 L1461.0 964.2 L1461.5 962.8 L1461.9 961.4 L1462.4 960.0 L1462.9 958.5 L1463.4 957.1 L1463.9 955.7 L1464.4 954.3 L1464.9 952.9 L1465.4 951.5 L1465.9 950.1 L1466.4 948.7 L1466.9 947.2 L1467.4 945.8 L1467.9 944.4 L1468.4 943.0 L1468.9 941.6 L1469.4 940.2 L1469.9 938.8 L1470.5 937.4 L1471.0 936.0 L1471.5 934.6 L1472.0 933.2 L1472.5 931.8 L1473.0 930.3 L1473.6 928.9 L1474.1 927.5 L1474.6 926.1 L1475.1 924.7 L1475.7 923.3 L1476.2 921.9 L1476.7 920.5 L1477.3 919.1 L1477.8 917.7 L1478.3 916.3 L1478.9 914.9 L1479.4 913.5 L1479.9 912.1 L1480.5 910.7 L1481.0 909.3 L1481.6 908.0 L1482.1 906.6 L1482.7 905.2 L1483.2 903.8 L1483.8 902.4 L1484.3 901.0 L1484.9 899.6 L1485.4 898.2 L1486.0 896.8 L1486.6 895.4 L1487.1 894.0 L1487.7 892.7 L1488.3 891.3 L1488.8 889.9 L1489.4 888.5 L1490.0 887.1 L1490.5 885.7 L1491.1 884.4 L1491.7 883.0 L1492.3 881.6 L1492.9 880.2 L1493.4 878.8 L1494.0 877.5 L1494.6 876.1 L1495.2 874.7 L1495.8 873.3 L1496.4 871.9 L1497.0 870.6 L1497.6 869.2 L1498.2 867.8 L1498.8 866.5 L1499.4 865.1 L1500.0 863.7 L1500.6 862.3 L1501.2 861.0 L1501.8 859.6 L1502.4 858.2 L1503.0 856.9 L1503.7 855.5 L1504.3 854.2 L1504.9 852.8 L1505.5 851.4 L1506.1 850.1 L1506.8 848.7 L1507.4 847.4 L1508.0 846.0 L1508.7 844.6 L1509.3 843.3 L1510.0 841.9 L1510.6 840.6 L1511.2 839.2 L1511.9 837.9 L1512.5 836.5 L1513.2 835.2 L1513.8 833.8 L1514.5 832.5 L1515.2 831.1 L1515.8 829.8 L1516.5 828.5 L1517.2 827.1 L1517.8 825.8 L1518.5 824.5 L1519.2 823.1 L1519.9 821.8 L1520.5 820.5 L1521.2 819.1 L1521.9 817.8 L1522.6 816.5 L1523.3 815.1 L1524.0 813.8 L1524.7 812.5 L1525.4 811.2 L1526.1 809.9 L1526.8 808.5 L1527.6 807.2 L1528.3 805.9 L1529.0 804.6 L1529.7 803.3 L1530.5 802.0 L1531.2 800.7 L1531.9 799.4 L1532.7 798.1 L1533.4 796.8 L1534.2 795.5 L1534.9 794.2 L1535.7 792.9 L1536.5 791.7 L1537.2 790.4 L1538.0 789.1 L1538.8 787.8 L1539.6 786.5 L1540.4 785.3 L1541.2 784.0 L1542.0 782.8 L1542.8 781.5 L1543.6 780.2 L1544.4 779.0 L1545.2 777.7 L1546.1 776.5 L1546.9 775.3 L1547.7 774.0 L1548.6 772.8 L1549.4 771.6 L1550.3 770.3 L1551.2 769.1 L1552.0 767.9 L1552.9 766.7 L1553.8 765.5 L1554.7 764.3 L1555.6 763.1 L1556.5 761.9 L1557.4 760.7 L1558.3 759.6 L1559.3 758.4 L1560.2 757.2 L1561.1 756.1 L1562.1 754.9 L1563.0 753.8 L1564.0 752.6 L1565.0 751.5 L1565.9 750.3 L1566.9 749.2 L1567.9 748.1 L1568.9 747.0 L1569.9 745.9 L1570.9 744.8 L1572.0 743.7 L1573.0 742.6 L1574.0 741.5 L1575.1 740.5 L1576.1 739.4 L1577.2 738.3 L1578.2 737.3 L1579.3 736.3 L1580.4 735.2 L1581.5 734.2 L1582.6 733.2 L1583.7 732.2 L1584.8 731.2 L1585.9 730.2 L1587.0 729.2 L1588.2 728.2 L1589.3 727.2 L1590.5 726.3 L1591.6 725.3 L1592.8 724.4 L1593.9 723.4 L1595.1 722.5 L1596.3 721.6 L1597.5 720.7 L1598.7 719.8 L1599.9 718.9 L1601.1 718.0 L1602.3 717.1 L1603.5 716.3 L1604.7 715.4 L1606.0 714.5 L1607.2 713.7 L1608.4 712.9 L1609.7 712.0 L1610.9 711.2 L1612.2 710.4 L1613.4 709.6 L1614.7 708.8 L1616.0 708.0 L1617.2 707.2 L1618.5 706.4 L1619.8 705.6 L1621.1 704.9 L1622.4 704.1 L1623.7 703.3 L1625.0 702.6 L1626.3 701.8 L1627.6 701.1 L1628.9 700.4 L1630.2 699.7 L1631.5 698.9 L1632.8 698.2 L1634.1 697.5 L1635.5 696.8 L1636.8 696.1 L1638.1 695.5 L1639.5 694.8 L1640.8 694.1 L1642.2 693.5 L1643.5 692.8 L1644.9 692.2 L1646.2 691.5 L1647.6 690.9 L1648.9 690.3 L1650.3 689.6 L1651.7 689.0 L1653.0 688.4 L1654.4 687.8 L1655.8 687.2 L1657.2 686.6 L1658.5 686.1 L1659.9 685.5 L1661.3 684.9 L1662.7 684.4 L1664.1 683.8 L1665.5 683.3 L1666.9 682.7 L1668.3 682.2 L1669.7 681.7 L1671.1 681.2 L1672.5 680.7 L1673.9 680.2 L1675.4 679.7 L1676.8 679.2 L1678.2 678.7 L1679.6 678.2 L1681.0 677.8 L1682.5 677.3 L1683.9 676.9 L1685.3 676.4 L1686.8 676.0 L1688.2 675.5 L1689.6 675.1 L1691.1 674.7 L1692.5 674.3 L1693.9 673.9 L1695.4 673.5 L1696.8 673.1 L1698.3 672.7 L1699.7 672.3 L1701.2 671.9 L1702.6 671.5 L1704.1 671.2 L1705.5 670.8 L1707.0 670.5 L1708.5 670.1 L1709.9 669.8 L1711.4 669.4 L1712.8 669.1 L1714.3 668.8 L1715.8 668.4 L1717.2 668.1 L1718.7 667.8 L1720.2 667.5 L1721.6 667.2 L1723.1 666.9 L1724.6 666.6 L1726.1 666.3 L1727.5 666.1 L1729.0 665.8 L1730.5 665.5 L1732.0 665.3 L1733.4 665.0 L1734.9 664.7 L1736.4 664.5 L1737.9 664.2 L1739.3 664.0 L1740.8 663.8 L1742.3 663.5 L1743.8 663.3 L1745.3 663.1 L1746.8 662.8 L1748.2 662.6 L1749.7 662.4 L1751.2 662.2 L1752.7 662.0 L1754.2 661.8 L1755.7 661.6 L1757.2 661.4 L1758.6 661.2 L1760.1 661.0 L1761.6 660.8 L1763.1 660.6 L1764.6 660.4 L1766.1 660.3 L1767.6 660.1 L1769.1 659.9 L1770.5 659.7 L1772.0 659.6 L1773.5 659.4 L1775.0 659.2 L1776.5 659.1 L1778.0 658.9 L1779.5 658.7 L1781.0 658.6 L1782.5 658.4 L1784.0 658.3 L1785.5 658.1 L1786.9 658.0 L1788.4 657.8 L1789.9 657.7 L1791.4 657.5 L1792.9 657.4 L1794.4 657.2 L1795.9 657.1 L1797.4 656.9 L1798.9 656.8 L1800.4 656.6 L1801.9 656.5 L1803.4 656.3 L1804.9 656.2 L1806.4 656.1 L1807.8 655.9 L1809.3 655.8 L1810.8 655.6 L1812.3 655.5 L1813.8 655.3 L1815.3 655.2 L1816.8 655.0 L1818.3 654.9 L1819.8 654.8 L1821.3 654.6 L1822.8 654.5 L1824.3 654.3 L1825.8 654.2 L1827.3 654.0 L1828.7 653.9 L1830.2 653.7 L1831.7 653.5 L1833.2 653.4 L1834.7 653.2 L1836.2 653.1 L1837.7 652.9 L1839.2 652.7 L1840.7 652.6 L1842.2 652.4 L1843.0 652.3" fill="none" stroke="#2a22a0" stroke-width="5.5" stroke-linejoin="round" stroke-linecap="butt"/>
</g>
</svg></body></html>
